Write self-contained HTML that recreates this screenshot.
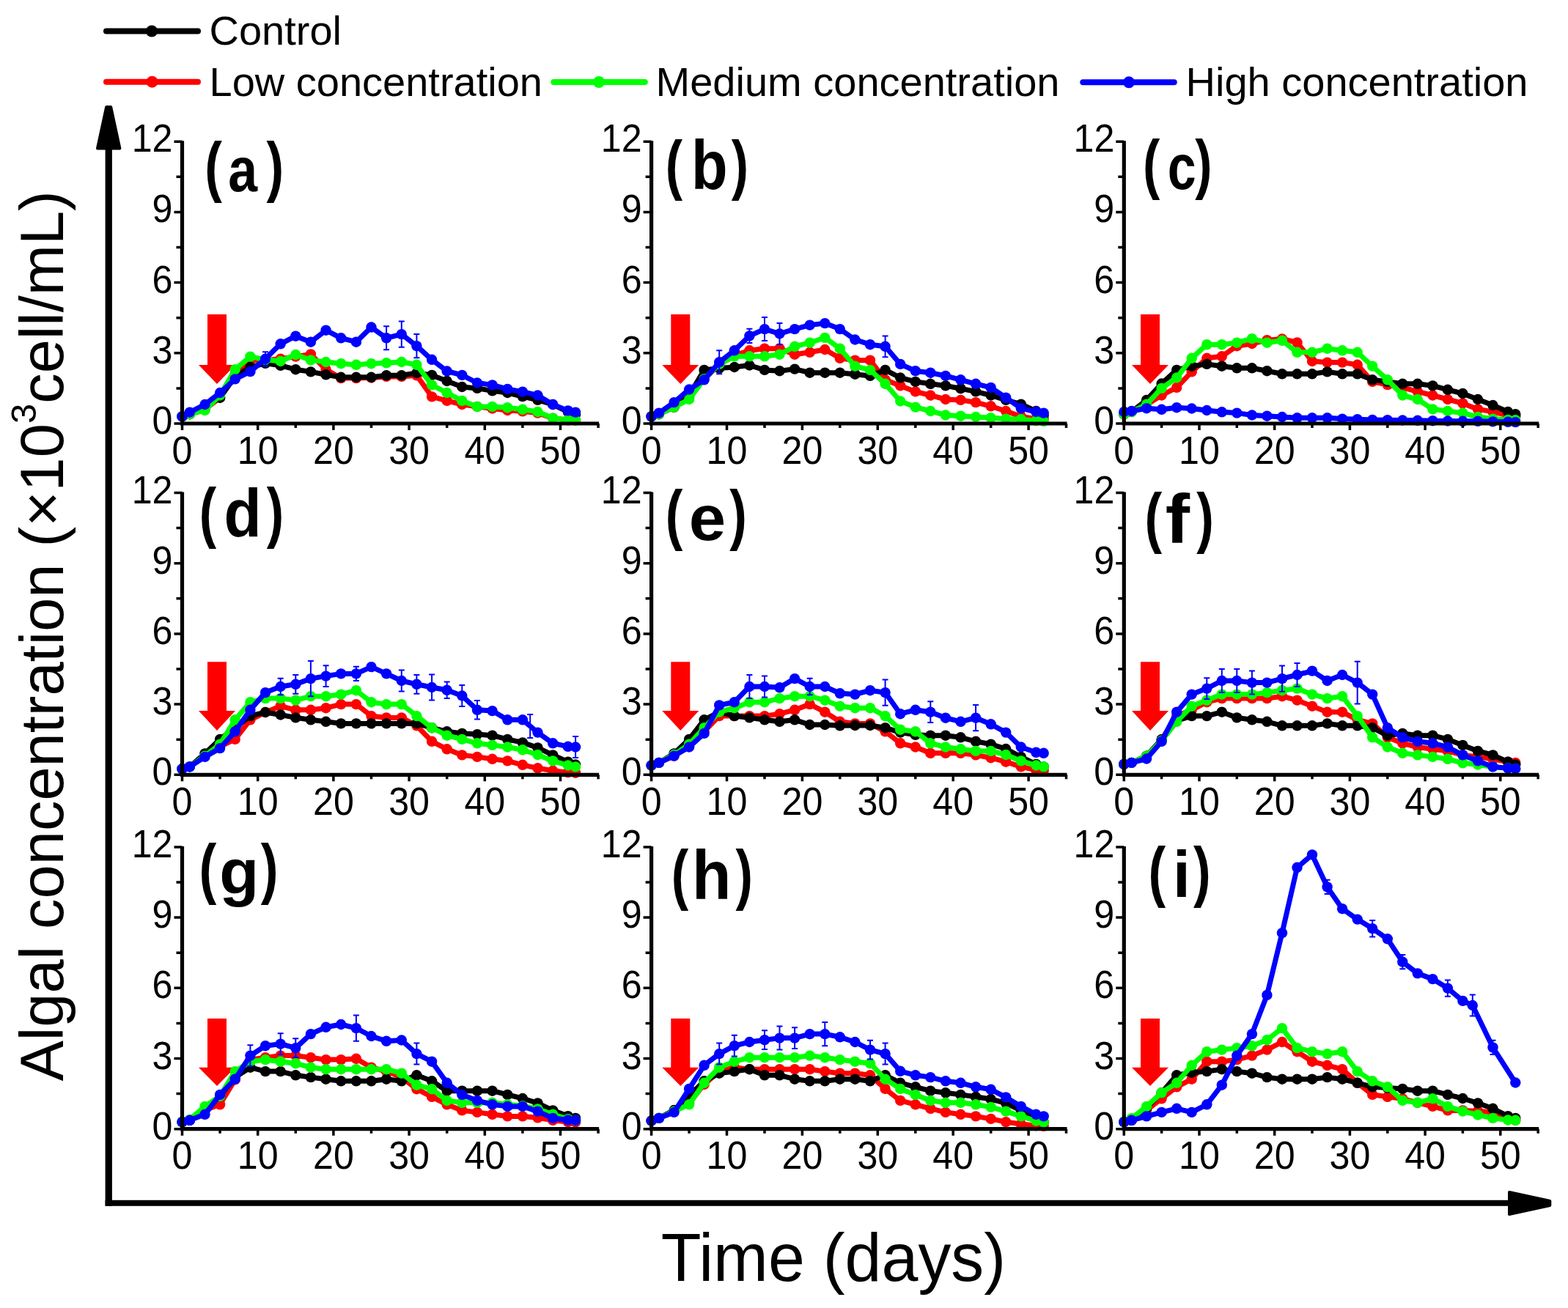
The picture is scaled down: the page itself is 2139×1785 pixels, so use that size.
<!DOCTYPE html>
<html><head><meta charset="utf-8"><title>Algal concentration</title>
<style>html,body{margin:0;padding:0;background:#fff;}svg{display:block;}.t{font-family:"Liberation Sans",Arial,sans-serif;}.bl{font-family:"Liberation Sans",Arial,sans-serif;font-weight:bold;}</style>
</head><body>
<svg width="2139" height="1785" viewBox="0 0 2139 1785">
<rect width="2139" height="1785" fill="#fff"/>
<line x1="145" y1="42.5" x2="270" y2="42.5" stroke="#000" stroke-width="8" stroke-linecap="round"/>
<circle cx="207" cy="42.5" r="8" fill="#000"/>
<line x1="145" y1="111.7" x2="270" y2="111.7" stroke="#ff0000" stroke-width="8" stroke-linecap="round"/>
<circle cx="207.5" cy="111.7" r="8" fill="#ff0000"/>
<line x1="755.4" y1="112" x2="879.8" y2="112" stroke="#00ff00" stroke-width="8" stroke-linecap="round"/>
<circle cx="817" cy="112" r="8" fill="#00ff00"/>
<line x1="1477.3" y1="112.3" x2="1601.7" y2="112.3" stroke="#0000ff" stroke-width="8" stroke-linecap="round"/>
<circle cx="1540" cy="112.3" r="8" fill="#0000ff"/>
<g class="t" font-size="56" fill="#000">
<text x="285.5" y="60.5">Control</text>
<text x="285.5" y="130.5">Low concentration</text>
<text x="894.5" y="130.8">Medium concentration</text>
<text x="1617.5" y="130.8">High concentration</text>
</g>
<g fill="#000">
<rect x="143.6" y="200" width="9.3" height="1445.7"/>
<rect x="143.6" y="1637.8" width="1920" height="8"/>
<path d="M145.2 146 L151.2 146 L163.4 202.5 L133 202.5 Z" stroke="#000" stroke-width="4" stroke-linejoin="round"/>
<path d="M2059 1627 L2114.3 1639 L2114.3 1645 L2059 1657 Z" stroke="#000" stroke-width="4" stroke-linejoin="round"/>
</g>
<text class="t" x="901.7" y="1747.7" font-size="92" textLength="470.4" lengthAdjust="spacingAndGlyphs">Time (days)</text>
<text class="t" font-size="83" transform="translate(85.6,1475.5) rotate(-90)">Algal concentration (×10<tspan font-size="49" dy="-37">3</tspan><tspan dy="37">cell/mL)</tspan></text>
<path d="M283 429 H309 V498 H321 L296 524 L271 498 H283 Z" fill="#ff0000"/>
<path d="M248.5 568.4 L258.8 565.2 L279.5 558.8 L300.1 542.7 L320.7 510.7 L341.4 491.4 L362 491.4 L382.7 489.8 L403.3 486.6 L423.9 483.4 L444.6 504.2 L465.2 516.1 L485.9 516.1 L506.5 515.5 L527.1 513.9 L547.8 513.9 L568.4 512.3 L589.1 541.4 L609.7 546.9 L630.3 552 L651 554.9 L671.6 557.5 L692.3 560 L712.9 561.3 L733.5 563.6 L754.2 570.6 L774.8 573.2 L785.1 573.5" fill="none" stroke="#ff0000" stroke-width="7" stroke-linejoin="round"/>
<g fill="#ff0000"><circle cx="248.5" cy="568.4" r="7.2"/><circle cx="258.8" cy="565.2" r="7.2"/><circle cx="279.5" cy="558.8" r="7.2"/><circle cx="300.1" cy="542.7" r="7.2"/><circle cx="320.7" cy="510.7" r="7.2"/><circle cx="341.4" cy="491.4" r="7.2"/><circle cx="362" cy="491.4" r="7.2"/><circle cx="382.7" cy="489.8" r="7.2"/><circle cx="403.3" cy="486.6" r="7.2"/><circle cx="423.9" cy="483.4" r="7.2"/><circle cx="444.6" cy="504.2" r="7.2"/><circle cx="465.2" cy="516.1" r="7.2"/><circle cx="485.9" cy="516.1" r="7.2"/><circle cx="506.5" cy="515.5" r="7.2"/><circle cx="527.1" cy="513.9" r="7.2"/><circle cx="547.8" cy="513.9" r="7.2"/><circle cx="568.4" cy="512.3" r="7.2"/><circle cx="589.1" cy="541.4" r="7.2"/><circle cx="609.7" cy="546.9" r="7.2"/><circle cx="630.3" cy="552" r="7.2"/><circle cx="651" cy="554.9" r="7.2"/><circle cx="671.6" cy="557.5" r="7.2"/><circle cx="692.3" cy="560" r="7.2"/><circle cx="712.9" cy="561.3" r="7.2"/><circle cx="733.5" cy="563.6" r="7.2"/><circle cx="754.2" cy="570.6" r="7.2"/><circle cx="774.8" cy="573.2" r="7.2"/><circle cx="785.1" cy="573.5" r="7.2"/></g>
<path d="M248.5 568.4 L258.8 565.2 L279.5 555.6 L300.1 542.7 L320.7 513.9 L341.4 501 L362 495.9 L382.7 498.8 L403.3 504.2 L423.9 507.4 L444.6 511.3 L465.2 514.8 L485.9 514.8 L506.5 514.8 L527.1 512.3 L547.8 512.3 L568.4 509 L589.1 511.9 L609.7 520 L630.3 528 L651 529.9 L671.6 533.4 L692.3 536 L712.9 541.1 L733.5 545.9 L754.2 552 L774.8 562 L785.1 565.5" fill="none" stroke="#000000" stroke-width="7" stroke-linejoin="round"/>
<g fill="#000000"><circle cx="248.5" cy="568.4" r="7.2"/><circle cx="258.8" cy="565.2" r="7.2"/><circle cx="279.5" cy="555.6" r="7.2"/><circle cx="300.1" cy="542.7" r="7.2"/><circle cx="320.7" cy="513.9" r="7.2"/><circle cx="341.4" cy="501" r="7.2"/><circle cx="362" cy="495.9" r="7.2"/><circle cx="382.7" cy="498.8" r="7.2"/><circle cx="403.3" cy="504.2" r="7.2"/><circle cx="423.9" cy="507.4" r="7.2"/><circle cx="444.6" cy="511.3" r="7.2"/><circle cx="465.2" cy="514.8" r="7.2"/><circle cx="485.9" cy="514.8" r="7.2"/><circle cx="506.5" cy="514.8" r="7.2"/><circle cx="527.1" cy="512.3" r="7.2"/><circle cx="547.8" cy="512.3" r="7.2"/><circle cx="568.4" cy="509" r="7.2"/><circle cx="589.1" cy="511.9" r="7.2"/><circle cx="609.7" cy="520" r="7.2"/><circle cx="630.3" cy="528" r="7.2"/><circle cx="651" cy="529.9" r="7.2"/><circle cx="671.6" cy="533.4" r="7.2"/><circle cx="692.3" cy="536" r="7.2"/><circle cx="712.9" cy="541.1" r="7.2"/><circle cx="733.5" cy="545.9" r="7.2"/><circle cx="754.2" cy="552" r="7.2"/><circle cx="774.8" cy="562" r="7.2"/><circle cx="785.1" cy="565.5" r="7.2"/></g>
<path d="M248.5 568.4 L258.8 565.2 L279.5 560 L300.1 539.5 L320.7 504.2 L341.4 486.6 L362 490.8 L382.7 493 L403.3 484 L423.9 491.4 L444.6 494 L465.2 496.2 L485.9 497.8 L506.5 496.2 L527.1 495.3 L547.8 494 L568.4 497.8 L589.1 525.4 L609.7 536 L630.3 546.9 L651 554.9 L671.6 554.9 L692.3 556.2 L712.9 558.8 L733.5 562 L754.2 570.6 L774.8 573.2 L785.1 573.5" fill="none" stroke="#00ff00" stroke-width="7" stroke-linejoin="round"/>
<g fill="#00ff00"><circle cx="248.5" cy="568.4" r="7.2"/><circle cx="258.8" cy="565.2" r="7.2"/><circle cx="279.5" cy="560" r="7.2"/><circle cx="300.1" cy="539.5" r="7.2"/><circle cx="320.7" cy="504.2" r="7.2"/><circle cx="341.4" cy="486.6" r="7.2"/><circle cx="362" cy="490.8" r="7.2"/><circle cx="382.7" cy="493" r="7.2"/><circle cx="403.3" cy="484" r="7.2"/><circle cx="423.9" cy="491.4" r="7.2"/><circle cx="444.6" cy="494" r="7.2"/><circle cx="465.2" cy="496.2" r="7.2"/><circle cx="485.9" cy="497.8" r="7.2"/><circle cx="506.5" cy="496.2" r="7.2"/><circle cx="527.1" cy="495.3" r="7.2"/><circle cx="547.8" cy="494" r="7.2"/><circle cx="568.4" cy="497.8" r="7.2"/><circle cx="589.1" cy="525.4" r="7.2"/><circle cx="609.7" cy="536" r="7.2"/><circle cx="630.3" cy="546.9" r="7.2"/><circle cx="651" cy="554.9" r="7.2"/><circle cx="671.6" cy="554.9" r="7.2"/><circle cx="692.3" cy="556.2" r="7.2"/><circle cx="712.9" cy="558.8" r="7.2"/><circle cx="733.5" cy="562" r="7.2"/><circle cx="754.2" cy="570.6" r="7.2"/><circle cx="774.8" cy="573.2" r="7.2"/><circle cx="785.1" cy="573.5" r="7.2"/></g>
<path d="M248.5 568.4 L258.8 562.6 L279.5 552 L300.1 536 L320.7 517.4 L341.4 507.1 L362 489.8 L382.7 469.3 L403.3 458.7 L423.9 466.7 L444.6 450.7 L465.2 461.3 L485.9 466.7 L506.5 446.5 L527.1 461.3 L547.8 456.1 L568.4 472.2 L589.1 490.8 L609.7 506.5 L630.3 511.9 L651 522.5 L671.6 525.4 L692.3 530.9 L712.9 534.7 L733.5 539.5 L754.2 552 L774.8 560.4 L785.1 562.6" fill="none" stroke="#0000ff" stroke-width="7" stroke-linejoin="round"/>
<g fill="#0000ff"><circle cx="248.5" cy="568.4" r="7.2"/><circle cx="258.8" cy="562.6" r="7.2"/><circle cx="279.5" cy="552" r="7.2"/><circle cx="300.1" cy="536" r="7.2"/><circle cx="320.7" cy="517.4" r="7.2"/><circle cx="341.4" cy="507.1" r="7.2"/><circle cx="362" cy="489.8" r="7.2"/><circle cx="382.7" cy="469.3" r="7.2"/><circle cx="403.3" cy="458.7" r="7.2"/><circle cx="423.9" cy="466.7" r="7.2"/><circle cx="444.6" cy="450.7" r="7.2"/><circle cx="465.2" cy="461.3" r="7.2"/><circle cx="485.9" cy="466.7" r="7.2"/><circle cx="506.5" cy="446.5" r="7.2"/><circle cx="527.1" cy="461.3" r="7.2"/><circle cx="547.8" cy="456.1" r="7.2"/><circle cx="568.4" cy="472.2" r="7.2"/><circle cx="589.1" cy="490.8" r="7.2"/><circle cx="609.7" cy="506.5" r="7.2"/><circle cx="630.3" cy="511.9" r="7.2"/><circle cx="651" cy="522.5" r="7.2"/><circle cx="671.6" cy="525.4" r="7.2"/><circle cx="692.3" cy="530.9" r="7.2"/><circle cx="712.9" cy="534.7" r="7.2"/><circle cx="733.5" cy="539.5" r="7.2"/><circle cx="754.2" cy="552" r="7.2"/><circle cx="774.8" cy="560.4" r="7.2"/><circle cx="785.1" cy="562.6" r="7.2"/></g>
<path d="M527.1 445.2 V477.3 M523.1 445.2 H531.1 M523.1 477.3 H531.1 M547.8 438.5 V473.8 M543.8 438.5 H551.8 M543.8 473.8 H551.8 M568.4 456.1 V488.2 M564.4 456.1 H572.4 M564.4 488.2 H572.4 M362 480.2 V499.4 M358 480.2 H366 M358 499.4 H366" stroke="#0000ff" stroke-width="2" fill="none"/>
<g stroke="#000" stroke-width="5.2" fill="none">
<path d="M248.5 192.2 V578 H817.1"/>
</g>
<path d="M248.5 578 H237.5 M248.5 481.8 H237.5 M248.5 385.6 H237.5 M248.5 289.4 H237.5 M248.5 193.2 H237.5 M248.5 529.9 H240.5 M248.5 433.7 H240.5 M248.5 337.5 H240.5 M248.5 241.3 H240.5 M248.5 578 V587 M351.7 578 V587 M454.9 578 V587 M558.1 578 V587 M661.3 578 V587 M764.5 578 V587 M300.1 578 V584 M403.3 578 V584 M506.5 578 V584 M609.7 578 V584 M712.9 578 V584 M816.1 578 V584" stroke="#000" stroke-width="3.5" fill="none"/>
<g class="t" font-size="54" fill="#000">
<text text-anchor="end" transform="translate(235.5,592) scale(0.93,1)">0</text>
<text text-anchor="end" transform="translate(235.5,495.8) scale(0.93,1)">3</text>
<text text-anchor="end" transform="translate(235.5,399.6) scale(0.93,1)">6</text>
<text text-anchor="end" transform="translate(235.5,303.4) scale(0.93,1)">9</text>
<text text-anchor="end" transform="translate(235.5,207.2) scale(0.93,1)">12</text>
<text text-anchor="middle" transform="translate(248.5,632.5) scale(0.93,1)">0</text>
<text text-anchor="middle" transform="translate(351.7,632.5) scale(0.93,1)">10</text>
<text text-anchor="middle" transform="translate(454.9,632.5) scale(0.93,1)">20</text>
<text text-anchor="middle" transform="translate(558.1,632.5) scale(0.93,1)">30</text>
<text text-anchor="middle" transform="translate(661.3,632.5) scale(0.93,1)">40</text>
<text text-anchor="middle" transform="translate(764.5,632.5) scale(0.93,1)">50</text>
</g>
<text class="bl" font-size="91" transform="translate(279.15,258.2) scale(0.78,1)">(</text>
<text class="bl" font-size="91" transform="translate(363.43,258.2) scale(0.78,1)">)</text>
<text class="bl" font-size="88" transform="translate(311.15,261) scale(0.815,0.970)">a</text>
<path d="M915.3 429 H941.3 V498 H953.3 L928.3 524 L903.3 498 H915.3 Z" fill="#ff0000"/>
<path d="M888.6 568.4 L898.9 565.2 L919.5 555.6 L940.1 542.7 L960.6 517.1 L981.2 497.8 L1001.8 485 L1022.4 478.3 L1043 475.7 L1063.5 475.7 L1084.1 483.7 L1104.7 480.8 L1125.3 477 L1145.8 488.8 L1166.4 491.7 L1187 491.7 L1207.6 518.3 L1228.2 526.4 L1248.8 534.4 L1269.3 539.5 L1289.9 545 L1310.5 545.9 L1331.1 549.1 L1351.7 554.3 L1372.2 561 L1392.8 568.4 L1413.4 571.6 L1423.7 572.2" fill="none" stroke="#ff0000" stroke-width="7" stroke-linejoin="round"/>
<g fill="#ff0000"><circle cx="888.6" cy="568.4" r="7.2"/><circle cx="898.9" cy="565.2" r="7.2"/><circle cx="919.5" cy="555.6" r="7.2"/><circle cx="940.1" cy="542.7" r="7.2"/><circle cx="960.6" cy="517.1" r="7.2"/><circle cx="981.2" cy="497.8" r="7.2"/><circle cx="1001.8" cy="485" r="7.2"/><circle cx="1022.4" cy="478.3" r="7.2"/><circle cx="1043" cy="475.7" r="7.2"/><circle cx="1063.5" cy="475.7" r="7.2"/><circle cx="1084.1" cy="483.7" r="7.2"/><circle cx="1104.7" cy="480.8" r="7.2"/><circle cx="1125.3" cy="477" r="7.2"/><circle cx="1145.8" cy="488.8" r="7.2"/><circle cx="1166.4" cy="491.7" r="7.2"/><circle cx="1187" cy="491.7" r="7.2"/><circle cx="1207.6" cy="518.3" r="7.2"/><circle cx="1228.2" cy="526.4" r="7.2"/><circle cx="1248.8" cy="534.4" r="7.2"/><circle cx="1269.3" cy="539.5" r="7.2"/><circle cx="1289.9" cy="545" r="7.2"/><circle cx="1310.5" cy="545.9" r="7.2"/><circle cx="1331.1" cy="549.1" r="7.2"/><circle cx="1351.7" cy="554.3" r="7.2"/><circle cx="1372.2" cy="561" r="7.2"/><circle cx="1392.8" cy="568.4" r="7.2"/><circle cx="1413.4" cy="571.6" r="7.2"/><circle cx="1423.7" cy="572.2" r="7.2"/></g>
<path d="M888.6 568.4 L898.9 565.2 L919.5 555.6 L940.1 539.5 L960.6 504.9 L981.2 502.6 L1001.8 501 L1022.4 498.5 L1043 504.9 L1063.5 506.2 L1084.1 503.6 L1104.7 508.7 L1125.3 508.7 L1145.8 508.7 L1166.4 510.7 L1187 512.9 L1207.6 504.9 L1228.2 515.5 L1248.8 520.9 L1269.3 523.8 L1289.9 526.4 L1310.5 530.2 L1331.1 534.4 L1351.7 539.5 L1372.2 545.9 L1392.8 551.7 L1413.4 561 L1423.7 566.8" fill="none" stroke="#000000" stroke-width="7" stroke-linejoin="round"/>
<g fill="#000000"><circle cx="888.6" cy="568.4" r="7.2"/><circle cx="898.9" cy="565.2" r="7.2"/><circle cx="919.5" cy="555.6" r="7.2"/><circle cx="940.1" cy="539.5" r="7.2"/><circle cx="960.6" cy="504.9" r="7.2"/><circle cx="981.2" cy="502.6" r="7.2"/><circle cx="1001.8" cy="501" r="7.2"/><circle cx="1022.4" cy="498.5" r="7.2"/><circle cx="1043" cy="504.9" r="7.2"/><circle cx="1063.5" cy="506.2" r="7.2"/><circle cx="1084.1" cy="503.6" r="7.2"/><circle cx="1104.7" cy="508.7" r="7.2"/><circle cx="1125.3" cy="508.7" r="7.2"/><circle cx="1145.8" cy="508.7" r="7.2"/><circle cx="1166.4" cy="510.7" r="7.2"/><circle cx="1187" cy="512.9" r="7.2"/><circle cx="1207.6" cy="504.9" r="7.2"/><circle cx="1228.2" cy="515.5" r="7.2"/><circle cx="1248.8" cy="520.9" r="7.2"/><circle cx="1269.3" cy="523.8" r="7.2"/><circle cx="1289.9" cy="526.4" r="7.2"/><circle cx="1310.5" cy="530.2" r="7.2"/><circle cx="1331.1" cy="534.4" r="7.2"/><circle cx="1351.7" cy="539.5" r="7.2"/><circle cx="1372.2" cy="545.9" r="7.2"/><circle cx="1392.8" cy="551.7" r="7.2"/><circle cx="1413.4" cy="561" r="7.2"/><circle cx="1423.7" cy="566.8" r="7.2"/></g>
<path d="M888.6 568.4 L898.9 565.2 L919.5 555.6 L940.1 545 L960.6 517.1 L981.2 496.9 L1001.8 486.3 L1022.4 486.3 L1043 486.3 L1063.5 483.7 L1084.1 472.8 L1104.7 467.7 L1125.3 460.9 L1145.8 475.7 L1166.4 499.7 L1187 504.9 L1207.6 523.8 L1228.2 547.5 L1248.8 555.6 L1269.3 561 L1289.9 566.5 L1310.5 567.7 L1331.1 569 L1351.7 570.3 L1372.2 571.6 L1392.8 572.2 L1413.4 574.2 L1423.7 574.8" fill="none" stroke="#00ff00" stroke-width="7" stroke-linejoin="round"/>
<g fill="#00ff00"><circle cx="888.6" cy="568.4" r="7.2"/><circle cx="898.9" cy="565.2" r="7.2"/><circle cx="919.5" cy="555.6" r="7.2"/><circle cx="940.1" cy="545" r="7.2"/><circle cx="960.6" cy="517.1" r="7.2"/><circle cx="981.2" cy="496.9" r="7.2"/><circle cx="1001.8" cy="486.3" r="7.2"/><circle cx="1022.4" cy="486.3" r="7.2"/><circle cx="1043" cy="486.3" r="7.2"/><circle cx="1063.5" cy="483.7" r="7.2"/><circle cx="1084.1" cy="472.8" r="7.2"/><circle cx="1104.7" cy="467.7" r="7.2"/><circle cx="1125.3" cy="460.9" r="7.2"/><circle cx="1145.8" cy="475.7" r="7.2"/><circle cx="1166.4" cy="499.7" r="7.2"/><circle cx="1187" cy="504.9" r="7.2"/><circle cx="1207.6" cy="523.8" r="7.2"/><circle cx="1228.2" cy="547.5" r="7.2"/><circle cx="1248.8" cy="555.6" r="7.2"/><circle cx="1269.3" cy="561" r="7.2"/><circle cx="1289.9" cy="566.5" r="7.2"/><circle cx="1310.5" cy="567.7" r="7.2"/><circle cx="1331.1" cy="569" r="7.2"/><circle cx="1351.7" cy="570.3" r="7.2"/><circle cx="1372.2" cy="571.6" r="7.2"/><circle cx="1392.8" cy="572.2" r="7.2"/><circle cx="1413.4" cy="574.2" r="7.2"/><circle cx="1423.7" cy="574.8" r="7.2"/></g>
<path d="M888.6 568.4 L898.9 563.6 L919.5 549.1 L940.1 531.5 L960.6 518.3 L981.2 494.3 L1001.8 478.3 L1022.4 458.4 L1043 449.1 L1063.5 455.5 L1084.1 449.1 L1104.7 443.6 L1125.3 441.1 L1145.8 449.1 L1166.4 463.5 L1187 470.2 L1207.6 472.8 L1228.2 496.9 L1248.8 506.2 L1269.3 508.7 L1289.9 512.9 L1310.5 518.3 L1331.1 523.8 L1351.7 528.9 L1372.2 542.7 L1392.8 557.2 L1413.4 562 L1423.7 563.6" fill="none" stroke="#0000ff" stroke-width="7" stroke-linejoin="round"/>
<g fill="#0000ff"><circle cx="888.6" cy="568.4" r="7.2"/><circle cx="898.9" cy="563.6" r="7.2"/><circle cx="919.5" cy="549.1" r="7.2"/><circle cx="940.1" cy="531.5" r="7.2"/><circle cx="960.6" cy="518.3" r="7.2"/><circle cx="981.2" cy="494.3" r="7.2"/><circle cx="1001.8" cy="478.3" r="7.2"/><circle cx="1022.4" cy="458.4" r="7.2"/><circle cx="1043" cy="449.1" r="7.2"/><circle cx="1063.5" cy="455.5" r="7.2"/><circle cx="1084.1" cy="449.1" r="7.2"/><circle cx="1104.7" cy="443.6" r="7.2"/><circle cx="1125.3" cy="441.1" r="7.2"/><circle cx="1145.8" cy="449.1" r="7.2"/><circle cx="1166.4" cy="463.5" r="7.2"/><circle cx="1187" cy="470.2" r="7.2"/><circle cx="1207.6" cy="472.8" r="7.2"/><circle cx="1228.2" cy="496.9" r="7.2"/><circle cx="1248.8" cy="506.2" r="7.2"/><circle cx="1269.3" cy="508.7" r="7.2"/><circle cx="1289.9" cy="512.9" r="7.2"/><circle cx="1310.5" cy="518.3" r="7.2"/><circle cx="1331.1" cy="523.8" r="7.2"/><circle cx="1351.7" cy="528.9" r="7.2"/><circle cx="1372.2" cy="542.7" r="7.2"/><circle cx="1392.8" cy="557.2" r="7.2"/><circle cx="1413.4" cy="562" r="7.2"/><circle cx="1423.7" cy="563.6" r="7.2"/></g>
<path d="M981.2 478.3 V510.3 M977.2 478.3 H985.2 M977.2 510.3 H985.2 M1043 433 V465.1 M1039 433 H1047 M1039 465.1 H1047 M1063.5 441.1 V469.9 M1059.5 441.1 H1067.5 M1059.5 469.9 H1067.5 M1207.6 458.4 V487.2 M1203.6 458.4 H1211.6 M1203.6 487.2 H1211.6 M1022.4 448.8 V468 M1018.4 448.8 H1026.4 M1018.4 468 H1026.4" stroke="#0000ff" stroke-width="2" fill="none"/>
<g stroke="#000" stroke-width="5.2" fill="none">
<path d="M888.6 192.2 V578 H1455.5"/>
</g>
<path d="M888.6 578 H877.6 M888.6 481.8 H877.6 M888.6 385.6 H877.6 M888.6 289.4 H877.6 M888.6 193.2 H877.6 M888.6 529.9 H880.6 M888.6 433.7 H880.6 M888.6 337.5 H880.6 M888.6 241.3 H880.6 M888.6 578 V587 M991.5 578 V587 M1094.4 578 V587 M1197.3 578 V587 M1300.2 578 V587 M1403.1 578 V587 M940.1 578 V584 M1043 578 V584 M1145.8 578 V584 M1248.8 578 V584 M1351.7 578 V584 M1454.5 578 V584" stroke="#000" stroke-width="3.5" fill="none"/>
<g class="t" font-size="54" fill="#000">
<text text-anchor="end" transform="translate(875.6,592) scale(0.93,1)">0</text>
<text text-anchor="end" transform="translate(875.6,495.8) scale(0.93,1)">3</text>
<text text-anchor="end" transform="translate(875.6,399.6) scale(0.93,1)">6</text>
<text text-anchor="end" transform="translate(875.6,303.4) scale(0.93,1)">9</text>
<text text-anchor="end" transform="translate(875.6,207.2) scale(0.93,1)">12</text>
<text text-anchor="middle" transform="translate(888.6,632.5) scale(0.93,1)">0</text>
<text text-anchor="middle" transform="translate(991.5,632.5) scale(0.93,1)">10</text>
<text text-anchor="middle" transform="translate(1094.4,632.5) scale(0.93,1)">20</text>
<text text-anchor="middle" transform="translate(1197.3,632.5) scale(0.93,1)">30</text>
<text text-anchor="middle" transform="translate(1300.2,632.5) scale(0.93,1)">40</text>
<text text-anchor="middle" transform="translate(1403.1,632.5) scale(0.93,1)">50</text>
</g>
<text class="bl" font-size="89.6" transform="translate(907.81,254.5) scale(0.78,1)">(</text>
<text class="bl" font-size="89.6" transform="translate(997.74,254.5) scale(0.78,1)">)</text>
<text class="bl" font-size="88" transform="translate(943.02,257.5) scale(0.923,1.065)">b</text>
<path d="M1556 429 H1582 V498 H1594 L1569 524 L1544 498 H1556 Z" fill="#ff0000"/>
<path d="M1533.3 565.2 L1543.6 562 L1564.1 552.3 L1584.6 539.5 L1605.2 528.9 L1625.7 507.4 L1646.3 488.8 L1666.8 486.3 L1687.3 472.2 L1707.9 469 L1728.4 464.2 L1749 462.5 L1769.5 467.4 L1790 493 L1810.6 494.6 L1831.1 494.6 L1851.7 497.8 L1872.2 520.9 L1892.8 525.1 L1913.3 528.9 L1933.8 534.4 L1954.4 539.5 L1974.9 545 L1995.4 550.4 L2016 558.4 L2036.5 562 L2057.1 566.8 L2067.3 568.4" fill="none" stroke="#ff0000" stroke-width="7" stroke-linejoin="round"/>
<g fill="#ff0000"><circle cx="1533.3" cy="565.2" r="7.2"/><circle cx="1543.6" cy="562" r="7.2"/><circle cx="1564.1" cy="552.3" r="7.2"/><circle cx="1584.6" cy="539.5" r="7.2"/><circle cx="1605.2" cy="528.9" r="7.2"/><circle cx="1625.7" cy="507.4" r="7.2"/><circle cx="1646.3" cy="488.8" r="7.2"/><circle cx="1666.8" cy="486.3" r="7.2"/><circle cx="1687.3" cy="472.2" r="7.2"/><circle cx="1707.9" cy="469" r="7.2"/><circle cx="1728.4" cy="464.2" r="7.2"/><circle cx="1749" cy="462.5" r="7.2"/><circle cx="1769.5" cy="467.4" r="7.2"/><circle cx="1790" cy="493" r="7.2"/><circle cx="1810.6" cy="494.6" r="7.2"/><circle cx="1831.1" cy="494.6" r="7.2"/><circle cx="1851.7" cy="497.8" r="7.2"/><circle cx="1872.2" cy="520.9" r="7.2"/><circle cx="1892.8" cy="525.1" r="7.2"/><circle cx="1913.3" cy="528.9" r="7.2"/><circle cx="1933.8" cy="534.4" r="7.2"/><circle cx="1954.4" cy="539.5" r="7.2"/><circle cx="1974.9" cy="545" r="7.2"/><circle cx="1995.4" cy="550.4" r="7.2"/><circle cx="2016" cy="558.4" r="7.2"/><circle cx="2036.5" cy="562" r="7.2"/><circle cx="2057.1" cy="566.8" r="7.2"/><circle cx="2067.3" cy="568.4" r="7.2"/></g>
<path d="M1533.3 565.2 L1543.6 562 L1564.1 545.9 L1584.6 523.5 L1605.2 504.9 L1625.7 499.7 L1646.3 496.9 L1666.8 499.7 L1687.3 502.3 L1707.9 502.3 L1728.4 506.2 L1749 510.3 L1769.5 510.3 L1790 510.3 L1810.6 507.4 L1831.1 510.3 L1851.7 510.3 L1872.2 518.3 L1892.8 520.9 L1913.3 523.8 L1933.8 523.8 L1954.4 526.4 L1974.9 531.8 L1995.4 537 L2016 545 L2036.5 553 L2057.1 562 L2067.3 565.2" fill="none" stroke="#000000" stroke-width="7" stroke-linejoin="round"/>
<g fill="#000000"><circle cx="1533.3" cy="565.2" r="7.2"/><circle cx="1543.6" cy="562" r="7.2"/><circle cx="1564.1" cy="545.9" r="7.2"/><circle cx="1584.6" cy="523.5" r="7.2"/><circle cx="1605.2" cy="504.9" r="7.2"/><circle cx="1625.7" cy="499.7" r="7.2"/><circle cx="1646.3" cy="496.9" r="7.2"/><circle cx="1666.8" cy="499.7" r="7.2"/><circle cx="1687.3" cy="502.3" r="7.2"/><circle cx="1707.9" cy="502.3" r="7.2"/><circle cx="1728.4" cy="506.2" r="7.2"/><circle cx="1749" cy="510.3" r="7.2"/><circle cx="1769.5" cy="510.3" r="7.2"/><circle cx="1790" cy="510.3" r="7.2"/><circle cx="1810.6" cy="507.4" r="7.2"/><circle cx="1831.1" cy="510.3" r="7.2"/><circle cx="1851.7" cy="510.3" r="7.2"/><circle cx="1872.2" cy="518.3" r="7.2"/><circle cx="1892.8" cy="520.9" r="7.2"/><circle cx="1913.3" cy="523.8" r="7.2"/><circle cx="1933.8" cy="523.8" r="7.2"/><circle cx="1954.4" cy="526.4" r="7.2"/><circle cx="1974.9" cy="531.8" r="7.2"/><circle cx="1995.4" cy="537" r="7.2"/><circle cx="2016" cy="545" r="7.2"/><circle cx="2036.5" cy="553" r="7.2"/><circle cx="2057.1" cy="562" r="7.2"/><circle cx="2067.3" cy="565.2" r="7.2"/></g>
<path d="M1533.3 565.2 L1543.6 562 L1564.1 551.7 L1584.6 529.9 L1605.2 515.5 L1625.7 488.8 L1646.3 470.2 L1666.8 470.2 L1687.3 467.7 L1707.9 462.2 L1728.4 467.7 L1749 464.8 L1769.5 480.8 L1790 480.8 L1810.6 475.7 L1831.1 478.3 L1851.7 480.8 L1872.2 499.7 L1892.8 518.3 L1913.3 539.5 L1933.8 545 L1954.4 558.4 L1974.9 561 L1995.4 563.6 L2016 569 L2036.5 571.6 L2057.1 572.9 L2067.3 573.2" fill="none" stroke="#00ff00" stroke-width="7" stroke-linejoin="round"/>
<g fill="#00ff00"><circle cx="1533.3" cy="565.2" r="7.2"/><circle cx="1543.6" cy="562" r="7.2"/><circle cx="1564.1" cy="551.7" r="7.2"/><circle cx="1584.6" cy="529.9" r="7.2"/><circle cx="1605.2" cy="515.5" r="7.2"/><circle cx="1625.7" cy="488.8" r="7.2"/><circle cx="1646.3" cy="470.2" r="7.2"/><circle cx="1666.8" cy="470.2" r="7.2"/><circle cx="1687.3" cy="467.7" r="7.2"/><circle cx="1707.9" cy="462.2" r="7.2"/><circle cx="1728.4" cy="467.7" r="7.2"/><circle cx="1749" cy="464.8" r="7.2"/><circle cx="1769.5" cy="480.8" r="7.2"/><circle cx="1790" cy="480.8" r="7.2"/><circle cx="1810.6" cy="475.7" r="7.2"/><circle cx="1831.1" cy="478.3" r="7.2"/><circle cx="1851.7" cy="480.8" r="7.2"/><circle cx="1872.2" cy="499.7" r="7.2"/><circle cx="1892.8" cy="518.3" r="7.2"/><circle cx="1913.3" cy="539.5" r="7.2"/><circle cx="1933.8" cy="545" r="7.2"/><circle cx="1954.4" cy="558.4" r="7.2"/><circle cx="1974.9" cy="561" r="7.2"/><circle cx="1995.4" cy="563.6" r="7.2"/><circle cx="2016" cy="569" r="7.2"/><circle cx="2036.5" cy="571.6" r="7.2"/><circle cx="2057.1" cy="572.9" r="7.2"/><circle cx="2067.3" cy="573.2" r="7.2"/></g>
<path d="M1533.3 562 L1543.6 561 L1564.1 557.2 L1584.6 558.8 L1605.2 556.2 L1625.7 557.5 L1646.3 560 L1666.8 562.3 L1687.3 563.6 L1707.9 566.5 L1728.4 567.7 L1749 569 L1769.5 570.3 L1790 570.3 L1810.6 570.3 L1831.1 571.6 L1851.7 572.2 L1872.2 572.9 L1892.8 573.2 L1913.3 573.5 L1933.8 573.8 L1954.4 574.2 L1974.9 574.5 L1995.4 574.8 L2016 574.8 L2036.5 575.4 L2057.1 575.8 L2067.3 576.1" fill="none" stroke="#0000ff" stroke-width="7" stroke-linejoin="round"/>
<g fill="#0000ff"><circle cx="1533.3" cy="562" r="7.2"/><circle cx="1543.6" cy="561" r="7.2"/><circle cx="1564.1" cy="557.2" r="7.2"/><circle cx="1584.6" cy="558.8" r="7.2"/><circle cx="1605.2" cy="556.2" r="7.2"/><circle cx="1625.7" cy="557.5" r="7.2"/><circle cx="1646.3" cy="560" r="7.2"/><circle cx="1666.8" cy="562.3" r="7.2"/><circle cx="1687.3" cy="563.6" r="7.2"/><circle cx="1707.9" cy="566.5" r="7.2"/><circle cx="1728.4" cy="567.7" r="7.2"/><circle cx="1749" cy="569" r="7.2"/><circle cx="1769.5" cy="570.3" r="7.2"/><circle cx="1790" cy="570.3" r="7.2"/><circle cx="1810.6" cy="570.3" r="7.2"/><circle cx="1831.1" cy="571.6" r="7.2"/><circle cx="1851.7" cy="572.2" r="7.2"/><circle cx="1872.2" cy="572.9" r="7.2"/><circle cx="1892.8" cy="573.2" r="7.2"/><circle cx="1913.3" cy="573.5" r="7.2"/><circle cx="1933.8" cy="573.8" r="7.2"/><circle cx="1954.4" cy="574.2" r="7.2"/><circle cx="1974.9" cy="574.5" r="7.2"/><circle cx="1995.4" cy="574.8" r="7.2"/><circle cx="2016" cy="574.8" r="7.2"/><circle cx="2036.5" cy="575.4" r="7.2"/><circle cx="2057.1" cy="575.8" r="7.2"/><circle cx="2067.3" cy="576.1" r="7.2"/></g>
<g stroke="#000" stroke-width="5.2" fill="none">
<path d="M1533.3 192.2 V578 H2099.2"/>
</g>
<path d="M1533.3 578 H1522.3 M1533.3 481.8 H1522.3 M1533.3 385.6 H1522.3 M1533.3 289.4 H1522.3 M1533.3 193.2 H1522.3 M1533.3 529.9 H1525.3 M1533.3 433.7 H1525.3 M1533.3 337.5 H1525.3 M1533.3 241.3 H1525.3 M1533.3 578 V587 M1636 578 V587 M1738.7 578 V587 M1841.4 578 V587 M1944.1 578 V587 M2046.8 578 V587 M1584.6 578 V584 M1687.3 578 V584 M1790 578 V584 M1892.8 578 V584 M1995.4 578 V584 M2098.2 578 V584" stroke="#000" stroke-width="3.5" fill="none"/>
<g class="t" font-size="54" fill="#000">
<text text-anchor="end" transform="translate(1520.3,592) scale(0.93,1)">0</text>
<text text-anchor="end" transform="translate(1520.3,495.8) scale(0.93,1)">3</text>
<text text-anchor="end" transform="translate(1520.3,399.6) scale(0.93,1)">6</text>
<text text-anchor="end" transform="translate(1520.3,303.4) scale(0.93,1)">9</text>
<text text-anchor="end" transform="translate(1520.3,207.2) scale(0.93,1)">12</text>
<text text-anchor="middle" transform="translate(1533.3,632.5) scale(0.93,1)">0</text>
<text text-anchor="middle" transform="translate(1636,632.5) scale(0.93,1)">10</text>
<text text-anchor="middle" transform="translate(1738.7,632.5) scale(0.93,1)">20</text>
<text text-anchor="middle" transform="translate(1841.4,632.5) scale(0.93,1)">30</text>
<text text-anchor="middle" transform="translate(1944.1,632.5) scale(0.93,1)">40</text>
<text text-anchor="middle" transform="translate(2046.8,632.5) scale(0.93,1)">50</text>
</g>
<text class="bl" font-size="89.6" transform="translate(1558.91,254.2) scale(0.78,1)">(</text>
<text class="bl" font-size="89.6" transform="translate(1630.24,254.2) scale(0.78,1)">)</text>
<text class="bl" font-size="88" transform="translate(1592.70,257.5) scale(0.795,0.990)">c</text>
<path d="M283 903.3 H309 V970 H321 L296 997 L271 970 H283 Z" fill="#ff0000"/>
<path d="M248.5 1049.3 L258.8 1046.4 L279.5 1031.6 L300.1 1018.8 L320.7 1008.9 L341.4 982.3 L362 972 L382.7 963.7 L403.3 968.8 L423.9 968.8 L444.6 966.2 L465.2 961.1 L485.9 961.1 L506.5 977.1 L527.1 979.4 L547.8 979.4 L568.4 990.3 L589.1 1011.8 L609.7 1022.3 L630.3 1030.4 L651 1032.9 L671.6 1035.8 L692.3 1038.4 L712.9 1043.8 L733.5 1048.3 L754.2 1051.8 L774.8 1054.1 L785.1 1054.7" fill="none" stroke="#ff0000" stroke-width="7" stroke-linejoin="round"/>
<g fill="#ff0000"><circle cx="248.5" cy="1049.3" r="7.2"/><circle cx="258.8" cy="1046.4" r="7.2"/><circle cx="279.5" cy="1031.6" r="7.2"/><circle cx="300.1" cy="1018.8" r="7.2"/><circle cx="320.7" cy="1008.9" r="7.2"/><circle cx="341.4" cy="982.3" r="7.2"/><circle cx="362" cy="972" r="7.2"/><circle cx="382.7" cy="963.7" r="7.2"/><circle cx="403.3" cy="968.8" r="7.2"/><circle cx="423.9" cy="968.8" r="7.2"/><circle cx="444.6" cy="966.2" r="7.2"/><circle cx="465.2" cy="961.1" r="7.2"/><circle cx="485.9" cy="961.1" r="7.2"/><circle cx="506.5" cy="977.1" r="7.2"/><circle cx="527.1" cy="979.4" r="7.2"/><circle cx="547.8" cy="979.4" r="7.2"/><circle cx="568.4" cy="990.3" r="7.2"/><circle cx="589.1" cy="1011.8" r="7.2"/><circle cx="609.7" cy="1022.3" r="7.2"/><circle cx="630.3" cy="1030.4" r="7.2"/><circle cx="651" cy="1032.9" r="7.2"/><circle cx="671.6" cy="1035.8" r="7.2"/><circle cx="692.3" cy="1038.4" r="7.2"/><circle cx="712.9" cy="1043.8" r="7.2"/><circle cx="733.5" cy="1048.3" r="7.2"/><circle cx="754.2" cy="1051.8" r="7.2"/><circle cx="774.8" cy="1054.1" r="7.2"/><circle cx="785.1" cy="1054.7" r="7.2"/></g>
<path d="M248.5 1049.3 L258.8 1046.4 L279.5 1028.4 L300.1 1008.9 L320.7 993.2 L341.4 977.1 L362 972 L382.7 975.5 L403.3 979.4 L423.9 982.3 L444.6 984.8 L465.2 987.4 L485.9 987.4 L506.5 987.4 L527.1 987.4 L547.8 987.4 L568.4 987.4 L589.1 993.2 L609.7 998.3 L630.3 1000.9 L651 1002.1 L671.6 1003.7 L692.3 1008.9 L712.9 1013.4 L733.5 1020.4 L754.2 1030.4 L774.8 1039.7 L785.1 1043.5" fill="none" stroke="#000000" stroke-width="7" stroke-linejoin="round"/>
<g fill="#000000"><circle cx="248.5" cy="1049.3" r="7.2"/><circle cx="258.8" cy="1046.4" r="7.2"/><circle cx="279.5" cy="1028.4" r="7.2"/><circle cx="300.1" cy="1008.9" r="7.2"/><circle cx="320.7" cy="993.2" r="7.2"/><circle cx="341.4" cy="977.1" r="7.2"/><circle cx="362" cy="972" r="7.2"/><circle cx="382.7" cy="975.5" r="7.2"/><circle cx="403.3" cy="979.4" r="7.2"/><circle cx="423.9" cy="982.3" r="7.2"/><circle cx="444.6" cy="984.8" r="7.2"/><circle cx="465.2" cy="987.4" r="7.2"/><circle cx="485.9" cy="987.4" r="7.2"/><circle cx="506.5" cy="987.4" r="7.2"/><circle cx="527.1" cy="987.4" r="7.2"/><circle cx="547.8" cy="987.4" r="7.2"/><circle cx="568.4" cy="987.4" r="7.2"/><circle cx="589.1" cy="993.2" r="7.2"/><circle cx="609.7" cy="998.3" r="7.2"/><circle cx="630.3" cy="1000.9" r="7.2"/><circle cx="651" cy="1002.1" r="7.2"/><circle cx="671.6" cy="1003.7" r="7.2"/><circle cx="692.3" cy="1008.9" r="7.2"/><circle cx="712.9" cy="1013.4" r="7.2"/><circle cx="733.5" cy="1020.4" r="7.2"/><circle cx="754.2" cy="1030.4" r="7.2"/><circle cx="774.8" cy="1039.7" r="7.2"/><circle cx="785.1" cy="1043.5" r="7.2"/></g>
<path d="M248.5 1049.3 L258.8 1046.4 L279.5 1031.6 L300.1 1015.6 L320.7 982.3 L341.4 958.2 L362 953.1 L382.7 953.1 L403.3 955.6 L423.9 950.2 L444.6 950.2 L465.2 947.6 L485.9 942.2 L506.5 958.2 L527.1 961.1 L547.8 961.1 L568.4 977.1 L589.1 993.2 L609.7 1003.7 L630.3 1008.9 L651 1014.3 L671.6 1016.9 L692.3 1019.5 L712.9 1023.3 L733.5 1030 L754.2 1038.4 L774.8 1044.5 L785.1 1046.4" fill="none" stroke="#00ff00" stroke-width="7" stroke-linejoin="round"/>
<g fill="#00ff00"><circle cx="248.5" cy="1049.3" r="7.2"/><circle cx="258.8" cy="1046.4" r="7.2"/><circle cx="279.5" cy="1031.6" r="7.2"/><circle cx="300.1" cy="1015.6" r="7.2"/><circle cx="320.7" cy="982.3" r="7.2"/><circle cx="341.4" cy="958.2" r="7.2"/><circle cx="362" cy="953.1" r="7.2"/><circle cx="382.7" cy="953.1" r="7.2"/><circle cx="403.3" cy="955.6" r="7.2"/><circle cx="423.9" cy="950.2" r="7.2"/><circle cx="444.6" cy="950.2" r="7.2"/><circle cx="465.2" cy="947.6" r="7.2"/><circle cx="485.9" cy="942.2" r="7.2"/><circle cx="506.5" cy="958.2" r="7.2"/><circle cx="527.1" cy="961.1" r="7.2"/><circle cx="547.8" cy="961.1" r="7.2"/><circle cx="568.4" cy="977.1" r="7.2"/><circle cx="589.1" cy="993.2" r="7.2"/><circle cx="609.7" cy="1003.7" r="7.2"/><circle cx="630.3" cy="1008.9" r="7.2"/><circle cx="651" cy="1014.3" r="7.2"/><circle cx="671.6" cy="1016.9" r="7.2"/><circle cx="692.3" cy="1019.5" r="7.2"/><circle cx="712.9" cy="1023.3" r="7.2"/><circle cx="733.5" cy="1030" r="7.2"/><circle cx="754.2" cy="1038.4" r="7.2"/><circle cx="774.8" cy="1044.5" r="7.2"/><circle cx="785.1" cy="1046.4" r="7.2"/></g>
<path d="M248.5 1049.3 L258.8 1046.4 L279.5 1032.9 L300.1 1021.1 L320.7 998.3 L341.4 968.8 L362 945.1 L382.7 937 L403.3 933.8 L423.9 926.1 L444.6 922.6 L465.2 919.4 L485.9 919.4 L506.5 910.1 L527.1 919.4 L547.8 929 L568.4 933.8 L589.1 938 L609.7 941.8 L630.3 949.5 L651 968.8 L671.6 970.1 L692.3 982.3 L712.9 982.3 L733.5 999.6 L754.2 1014.3 L774.8 1018.8 L785.1 1019.5" fill="none" stroke="#0000ff" stroke-width="7" stroke-linejoin="round"/>
<g fill="#0000ff"><circle cx="248.5" cy="1049.3" r="7.2"/><circle cx="258.8" cy="1046.4" r="7.2"/><circle cx="279.5" cy="1032.9" r="7.2"/><circle cx="300.1" cy="1021.1" r="7.2"/><circle cx="320.7" cy="998.3" r="7.2"/><circle cx="341.4" cy="968.8" r="7.2"/><circle cx="362" cy="945.1" r="7.2"/><circle cx="382.7" cy="937" r="7.2"/><circle cx="403.3" cy="933.8" r="7.2"/><circle cx="423.9" cy="926.1" r="7.2"/><circle cx="444.6" cy="922.6" r="7.2"/><circle cx="465.2" cy="919.4" r="7.2"/><circle cx="485.9" cy="919.4" r="7.2"/><circle cx="506.5" cy="910.1" r="7.2"/><circle cx="527.1" cy="919.4" r="7.2"/><circle cx="547.8" cy="929" r="7.2"/><circle cx="568.4" cy="933.8" r="7.2"/><circle cx="589.1" cy="938" r="7.2"/><circle cx="609.7" cy="941.8" r="7.2"/><circle cx="630.3" cy="949.5" r="7.2"/><circle cx="651" cy="968.8" r="7.2"/><circle cx="671.6" cy="970.1" r="7.2"/><circle cx="692.3" cy="982.3" r="7.2"/><circle cx="712.9" cy="982.3" r="7.2"/><circle cx="733.5" cy="999.6" r="7.2"/><circle cx="754.2" cy="1014.3" r="7.2"/><circle cx="774.8" cy="1018.8" r="7.2"/><circle cx="785.1" cy="1019.5" r="7.2"/></g>
<path d="M382.7 925.8 V948.3 M378.7 925.8 H386.7 M378.7 948.3 H386.7 M403.3 921 V946.7 M399.3 921 H407.3 M399.3 946.7 H407.3 M423.9 902.1 V950.2 M419.9 902.1 H427.9 M419.9 950.2 H427.9 M444.6 908.2 V937 M440.6 908.2 H448.6 M440.6 937 H448.6 M485.9 909.8 V929 M481.9 909.8 H489.9 M481.9 929 H489.9 M547.8 914.6 V943.5 M543.8 914.6 H551.8 M543.8 943.5 H551.8 M568.4 921 V946.7 M564.4 921 H572.4 M564.4 946.7 H572.4 M589.1 920.4 V955.6 M585.1 920.4 H593.1 M585.1 955.6 H593.1 M609.7 930.6 V953.1 M605.7 930.6 H613.7 M605.7 953.1 H613.7 M630.3 935.1 V964 M626.3 935.1 H634.3 M626.3 964 H634.3 M651 956 V981.6 M647 956 H655 M647 981.6 H655 M723.2 974.9 V1007 M719.2 974.9 H727.2 M719.2 1007 H727.2 M785.1 1005 V1033.9 M781.1 1005 H789.1 M781.1 1033.9 H789.1" stroke="#0000ff" stroke-width="2" fill="none"/>
<g stroke="#000" stroke-width="5.2" fill="none">
<path d="M248.5 671.5 V1057.3 H817.1"/>
</g>
<path d="M248.5 1057.3 H237.5 M248.5 961.1 H237.5 M248.5 864.9 H237.5 M248.5 768.7 H237.5 M248.5 672.5 H237.5 M248.5 1009.2 H240.5 M248.5 913 H240.5 M248.5 816.8 H240.5 M248.5 720.6 H240.5 M248.5 1057.3 V1066.3 M351.7 1057.3 V1066.3 M454.9 1057.3 V1066.3 M558.1 1057.3 V1066.3 M661.3 1057.3 V1066.3 M764.5 1057.3 V1066.3 M300.1 1057.3 V1063.3 M403.3 1057.3 V1063.3 M506.5 1057.3 V1063.3 M609.7 1057.3 V1063.3 M712.9 1057.3 V1063.3 M816.1 1057.3 V1063.3" stroke="#000" stroke-width="3.5" fill="none"/>
<g class="t" font-size="54" fill="#000">
<text text-anchor="end" transform="translate(235.5,1071.3) scale(0.93,1)">0</text>
<text text-anchor="end" transform="translate(235.5,975.1) scale(0.93,1)">3</text>
<text text-anchor="end" transform="translate(235.5,878.9) scale(0.93,1)">6</text>
<text text-anchor="end" transform="translate(235.5,782.7) scale(0.93,1)">9</text>
<text text-anchor="end" transform="translate(235.5,686.5) scale(0.93,1)">12</text>
<text text-anchor="middle" transform="translate(248.5,1111.8) scale(0.93,1)">0</text>
<text text-anchor="middle" transform="translate(351.7,1111.8) scale(0.93,1)">10</text>
<text text-anchor="middle" transform="translate(454.9,1111.8) scale(0.93,1)">20</text>
<text text-anchor="middle" transform="translate(558.1,1111.8) scale(0.93,1)">30</text>
<text text-anchor="middle" transform="translate(661.3,1111.8) scale(0.93,1)">40</text>
<text text-anchor="middle" transform="translate(764.5,1111.8) scale(0.93,1)">50</text>
</g>
<text class="bl" font-size="90.1" transform="translate(271.69,729.5) scale(0.78,1)">(</text>
<text class="bl" font-size="90.1" transform="translate(363.72,729.5) scale(0.78,1)">)</text>
<text class="bl" font-size="88" transform="translate(305.45,732) scale(0.952,1.050)">d</text>
<path d="M915.3 903.3 H941.3 V970 H953.3 L928.3 997 L903.3 970 H915.3 Z" fill="#ff0000"/>
<path d="M888.6 1044.5 L898.9 1040.9 L919.5 1031.6 L940.1 1018.8 L960.6 998.3 L981.2 977.1 L1001.8 977.1 L1022.4 977.1 L1043 977.1 L1063.5 974.2 L1084.1 968.8 L1104.7 961.1 L1125.3 971.7 L1145.8 984.8 L1166.4 987.4 L1187 987.4 L1207.6 998.3 L1228.2 1014.3 L1248.8 1019.5 L1269.3 1027.8 L1289.9 1027.8 L1310.5 1027.8 L1331.1 1030.4 L1351.7 1034.2 L1372.2 1039.7 L1392.8 1046.4 L1413.4 1050.9 L1423.7 1051.8" fill="none" stroke="#ff0000" stroke-width="7" stroke-linejoin="round"/>
<g fill="#ff0000"><circle cx="888.6" cy="1044.5" r="7.2"/><circle cx="898.9" cy="1040.9" r="7.2"/><circle cx="919.5" cy="1031.6" r="7.2"/><circle cx="940.1" cy="1018.8" r="7.2"/><circle cx="960.6" cy="998.3" r="7.2"/><circle cx="981.2" cy="977.1" r="7.2"/><circle cx="1001.8" cy="977.1" r="7.2"/><circle cx="1022.4" cy="977.1" r="7.2"/><circle cx="1043" cy="977.1" r="7.2"/><circle cx="1063.5" cy="974.2" r="7.2"/><circle cx="1084.1" cy="968.8" r="7.2"/><circle cx="1104.7" cy="961.1" r="7.2"/><circle cx="1125.3" cy="971.7" r="7.2"/><circle cx="1145.8" cy="984.8" r="7.2"/><circle cx="1166.4" cy="987.4" r="7.2"/><circle cx="1187" cy="987.4" r="7.2"/><circle cx="1207.6" cy="998.3" r="7.2"/><circle cx="1228.2" cy="1014.3" r="7.2"/><circle cx="1248.8" cy="1019.5" r="7.2"/><circle cx="1269.3" cy="1027.8" r="7.2"/><circle cx="1289.9" cy="1027.8" r="7.2"/><circle cx="1310.5" cy="1027.8" r="7.2"/><circle cx="1331.1" cy="1030.4" r="7.2"/><circle cx="1351.7" cy="1034.2" r="7.2"/><circle cx="1372.2" cy="1039.7" r="7.2"/><circle cx="1392.8" cy="1046.4" r="7.2"/><circle cx="1413.4" cy="1050.9" r="7.2"/><circle cx="1423.7" cy="1051.8" r="7.2"/></g>
<path d="M888.6 1044.5 L898.9 1040.9 L919.5 1028.4 L940.1 1008.9 L960.6 982.3 L981.2 971.7 L1001.8 977.1 L1022.4 979.4 L1043 982.3 L1063.5 984.8 L1084.1 982.3 L1104.7 989 L1125.3 989 L1145.8 990.3 L1166.4 990 L1187 990 L1207.6 993.2 L1228.2 999.6 L1248.8 1002.8 L1269.3 1003.7 L1289.9 1003.7 L1310.5 1006.3 L1331.1 1011.8 L1351.7 1015.6 L1372.2 1022 L1392.8 1032.9 L1413.4 1042.9 L1423.7 1046.4" fill="none" stroke="#000000" stroke-width="7" stroke-linejoin="round"/>
<g fill="#000000"><circle cx="888.6" cy="1044.5" r="7.2"/><circle cx="898.9" cy="1040.9" r="7.2"/><circle cx="919.5" cy="1028.4" r="7.2"/><circle cx="940.1" cy="1008.9" r="7.2"/><circle cx="960.6" cy="982.3" r="7.2"/><circle cx="981.2" cy="971.7" r="7.2"/><circle cx="1001.8" cy="977.1" r="7.2"/><circle cx="1022.4" cy="979.4" r="7.2"/><circle cx="1043" cy="982.3" r="7.2"/><circle cx="1063.5" cy="984.8" r="7.2"/><circle cx="1084.1" cy="982.3" r="7.2"/><circle cx="1104.7" cy="989" r="7.2"/><circle cx="1125.3" cy="989" r="7.2"/><circle cx="1145.8" cy="990.3" r="7.2"/><circle cx="1166.4" cy="990" r="7.2"/><circle cx="1187" cy="990" r="7.2"/><circle cx="1207.6" cy="993.2" r="7.2"/><circle cx="1228.2" cy="999.6" r="7.2"/><circle cx="1248.8" cy="1002.8" r="7.2"/><circle cx="1269.3" cy="1003.7" r="7.2"/><circle cx="1289.9" cy="1003.7" r="7.2"/><circle cx="1310.5" cy="1006.3" r="7.2"/><circle cx="1331.1" cy="1011.8" r="7.2"/><circle cx="1351.7" cy="1015.6" r="7.2"/><circle cx="1372.2" cy="1022" r="7.2"/><circle cx="1392.8" cy="1032.9" r="7.2"/><circle cx="1413.4" cy="1042.9" r="7.2"/><circle cx="1423.7" cy="1046.4" r="7.2"/></g>
<path d="M888.6 1044.5 L898.9 1040.9 L919.5 1030 L940.1 1015.6 L960.6 993.2 L981.2 971.7 L1001.8 966.2 L1022.4 958.2 L1043 958.2 L1063.5 953.1 L1084.1 950.2 L1104.7 950.2 L1125.3 955.6 L1145.8 963.7 L1166.4 966.2 L1187 966.2 L1207.6 977.1 L1228.2 995.7 L1248.8 998.3 L1269.3 1014.3 L1289.9 1019.5 L1310.5 1022.3 L1331.1 1024.9 L1351.7 1024.9 L1372.2 1030 L1392.8 1038.4 L1413.4 1044.5 L1423.7 1046.4" fill="none" stroke="#00ff00" stroke-width="7" stroke-linejoin="round"/>
<g fill="#00ff00"><circle cx="888.6" cy="1044.5" r="7.2"/><circle cx="898.9" cy="1040.9" r="7.2"/><circle cx="919.5" cy="1030" r="7.2"/><circle cx="940.1" cy="1015.6" r="7.2"/><circle cx="960.6" cy="993.2" r="7.2"/><circle cx="981.2" cy="971.7" r="7.2"/><circle cx="1001.8" cy="966.2" r="7.2"/><circle cx="1022.4" cy="958.2" r="7.2"/><circle cx="1043" cy="958.2" r="7.2"/><circle cx="1063.5" cy="953.1" r="7.2"/><circle cx="1084.1" cy="950.2" r="7.2"/><circle cx="1104.7" cy="950.2" r="7.2"/><circle cx="1125.3" cy="955.6" r="7.2"/><circle cx="1145.8" cy="963.7" r="7.2"/><circle cx="1166.4" cy="966.2" r="7.2"/><circle cx="1187" cy="966.2" r="7.2"/><circle cx="1207.6" cy="977.1" r="7.2"/><circle cx="1228.2" cy="995.7" r="7.2"/><circle cx="1248.8" cy="998.3" r="7.2"/><circle cx="1269.3" cy="1014.3" r="7.2"/><circle cx="1289.9" cy="1019.5" r="7.2"/><circle cx="1310.5" cy="1022.3" r="7.2"/><circle cx="1331.1" cy="1024.9" r="7.2"/><circle cx="1351.7" cy="1024.9" r="7.2"/><circle cx="1372.2" cy="1030" r="7.2"/><circle cx="1392.8" cy="1038.4" r="7.2"/><circle cx="1413.4" cy="1044.5" r="7.2"/><circle cx="1423.7" cy="1046.4" r="7.2"/></g>
<path d="M888.6 1044.5 L898.9 1040.9 L919.5 1031.6 L940.1 1019.5 L960.6 1000.9 L981.2 962.4 L1001.8 958.2 L1022.4 937 L1043 937 L1063.5 938.3 L1084.1 926.1 L1104.7 937 L1125.3 937 L1145.8 946.3 L1166.4 947.6 L1187 942.2 L1207.6 945.1 L1228.2 974.2 L1248.8 968.8 L1269.3 971.7 L1289.9 979.7 L1310.5 984.8 L1331.1 979.7 L1351.7 988.3 L1372.2 999.6 L1392.8 1019.5 L1413.4 1026.8 L1423.7 1027.8" fill="none" stroke="#0000ff" stroke-width="7" stroke-linejoin="round"/>
<g fill="#0000ff"><circle cx="888.6" cy="1044.5" r="7.2"/><circle cx="898.9" cy="1040.9" r="7.2"/><circle cx="919.5" cy="1031.6" r="7.2"/><circle cx="940.1" cy="1019.5" r="7.2"/><circle cx="960.6" cy="1000.9" r="7.2"/><circle cx="981.2" cy="962.4" r="7.2"/><circle cx="1001.8" cy="958.2" r="7.2"/><circle cx="1022.4" cy="937" r="7.2"/><circle cx="1043" cy="937" r="7.2"/><circle cx="1063.5" cy="938.3" r="7.2"/><circle cx="1084.1" cy="926.1" r="7.2"/><circle cx="1104.7" cy="937" r="7.2"/><circle cx="1125.3" cy="937" r="7.2"/><circle cx="1145.8" cy="946.3" r="7.2"/><circle cx="1166.4" cy="947.6" r="7.2"/><circle cx="1187" cy="942.2" r="7.2"/><circle cx="1207.6" cy="945.1" r="7.2"/><circle cx="1228.2" cy="974.2" r="7.2"/><circle cx="1248.8" cy="968.8" r="7.2"/><circle cx="1269.3" cy="971.7" r="7.2"/><circle cx="1289.9" cy="979.7" r="7.2"/><circle cx="1310.5" cy="984.8" r="7.2"/><circle cx="1331.1" cy="979.7" r="7.2"/><circle cx="1351.7" cy="988.3" r="7.2"/><circle cx="1372.2" cy="999.6" r="7.2"/><circle cx="1392.8" cy="1019.5" r="7.2"/><circle cx="1413.4" cy="1026.8" r="7.2"/><circle cx="1423.7" cy="1027.8" r="7.2"/></g>
<path d="M1022.4 921 V953.1 M1018.4 921 H1026.4 M1018.4 953.1 H1026.4 M1043 922.6 V951.5 M1039 922.6 H1047 M1039 951.5 H1047 M1104.7 925.8 V948.3 M1100.7 925.8 H1108.7 M1100.7 948.3 H1108.7 M1207.6 927.4 V962.7 M1203.6 927.4 H1211.6 M1203.6 962.7 H1211.6 M1269.3 957.2 V986.1 M1265.3 957.2 H1273.3 M1265.3 986.1 H1273.3 M1331.1 962.1 V997.3 M1327.1 962.1 H1335.1 M1327.1 997.3 H1335.1" stroke="#0000ff" stroke-width="2" fill="none"/>
<g stroke="#000" stroke-width="5.2" fill="none">
<path d="M888.6 671.5 V1057.3 H1455.5"/>
</g>
<path d="M888.6 1057.3 H877.6 M888.6 961.1 H877.6 M888.6 864.9 H877.6 M888.6 768.7 H877.6 M888.6 672.5 H877.6 M888.6 1009.2 H880.6 M888.6 913 H880.6 M888.6 816.8 H880.6 M888.6 720.6 H880.6 M888.6 1057.3 V1066.3 M991.5 1057.3 V1066.3 M1094.4 1057.3 V1066.3 M1197.3 1057.3 V1066.3 M1300.2 1057.3 V1066.3 M1403.1 1057.3 V1066.3 M940.1 1057.3 V1063.3 M1043 1057.3 V1063.3 M1145.8 1057.3 V1063.3 M1248.8 1057.3 V1063.3 M1351.7 1057.3 V1063.3 M1454.5 1057.3 V1063.3" stroke="#000" stroke-width="3.5" fill="none"/>
<g class="t" font-size="54" fill="#000">
<text text-anchor="end" transform="translate(875.6,1071.3) scale(0.93,1)">0</text>
<text text-anchor="end" transform="translate(875.6,975.1) scale(0.93,1)">3</text>
<text text-anchor="end" transform="translate(875.6,878.9) scale(0.93,1)">6</text>
<text text-anchor="end" transform="translate(875.6,782.7) scale(0.93,1)">9</text>
<text text-anchor="end" transform="translate(875.6,686.5) scale(0.93,1)">12</text>
<text text-anchor="middle" transform="translate(888.6,1111.8) scale(0.93,1)">0</text>
<text text-anchor="middle" transform="translate(991.5,1111.8) scale(0.93,1)">10</text>
<text text-anchor="middle" transform="translate(1094.4,1111.8) scale(0.93,1)">20</text>
<text text-anchor="middle" transform="translate(1197.3,1111.8) scale(0.93,1)">30</text>
<text text-anchor="middle" transform="translate(1300.2,1111.8) scale(0.93,1)">40</text>
<text text-anchor="middle" transform="translate(1403.1,1111.8) scale(0.93,1)">50</text>
</g>
<text class="bl" font-size="91" transform="translate(907.75,733.1) scale(0.78,1)">(</text>
<text class="bl" font-size="91" transform="translate(995.13,733.1) scale(0.78,1)">)</text>
<text class="bl" font-size="88" transform="translate(939.67,736.5) scale(1.030,0.980)">e</text>
<path d="M1556 903.3 H1582 V970 H1594 L1569 997 L1544 970 H1556 Z" fill="#ff0000"/>
<path d="M1533.3 1042.9 L1543.6 1040.9 L1564.1 1031.6 L1584.6 1009.2 L1605.2 977.1 L1625.7 968.8 L1646.3 958.2 L1666.8 953.1 L1687.3 953.1 L1707.9 953.1 L1728.4 953.1 L1749 950.2 L1769.5 955.6 L1790 963.7 L1810.6 971.7 L1831.1 971.7 L1851.7 982.3 L1872.2 987.4 L1892.8 1006.3 L1913.3 1014.3 L1933.8 1019.5 L1954.4 1022.3 L1974.9 1024.9 L1995.4 1030.4 L2016 1032.9 L2036.5 1035.8 L2057.1 1039.7 L2067.3 1040.9" fill="none" stroke="#ff0000" stroke-width="7" stroke-linejoin="round"/>
<g fill="#ff0000"><circle cx="1533.3" cy="1042.9" r="7.2"/><circle cx="1543.6" cy="1040.9" r="7.2"/><circle cx="1564.1" cy="1031.6" r="7.2"/><circle cx="1584.6" cy="1009.2" r="7.2"/><circle cx="1605.2" cy="977.1" r="7.2"/><circle cx="1625.7" cy="968.8" r="7.2"/><circle cx="1646.3" cy="958.2" r="7.2"/><circle cx="1666.8" cy="953.1" r="7.2"/><circle cx="1687.3" cy="953.1" r="7.2"/><circle cx="1707.9" cy="953.1" r="7.2"/><circle cx="1728.4" cy="953.1" r="7.2"/><circle cx="1749" cy="950.2" r="7.2"/><circle cx="1769.5" cy="955.6" r="7.2"/><circle cx="1790" cy="963.7" r="7.2"/><circle cx="1810.6" cy="971.7" r="7.2"/><circle cx="1831.1" cy="971.7" r="7.2"/><circle cx="1851.7" cy="982.3" r="7.2"/><circle cx="1872.2" cy="987.4" r="7.2"/><circle cx="1892.8" cy="1006.3" r="7.2"/><circle cx="1913.3" cy="1014.3" r="7.2"/><circle cx="1933.8" cy="1019.5" r="7.2"/><circle cx="1954.4" cy="1022.3" r="7.2"/><circle cx="1974.9" cy="1024.9" r="7.2"/><circle cx="1995.4" cy="1030.4" r="7.2"/><circle cx="2016" cy="1032.9" r="7.2"/><circle cx="2036.5" cy="1035.8" r="7.2"/><circle cx="2057.1" cy="1039.7" r="7.2"/><circle cx="2067.3" cy="1040.9" r="7.2"/></g>
<path d="M1533.3 1042.9 L1543.6 1040.9 L1564.1 1031.6 L1584.6 1009.2 L1605.2 983.5 L1625.7 977.1 L1646.3 977.1 L1666.8 971.7 L1687.3 979.4 L1707.9 982.3 L1728.4 984.8 L1749 990.3 L1769.5 990.3 L1790 990.3 L1810.6 987.4 L1831.1 990.3 L1851.7 990.3 L1872.2 993.2 L1892.8 1003.7 L1913.3 1000.9 L1933.8 1003.7 L1954.4 1003.7 L1974.9 1008.9 L1995.4 1016.9 L2016 1024.9 L2036.5 1030.4 L2057.1 1039.7 L2067.3 1043.5" fill="none" stroke="#000000" stroke-width="7" stroke-linejoin="round"/>
<g fill="#000000"><circle cx="1533.3" cy="1042.9" r="7.2"/><circle cx="1543.6" cy="1040.9" r="7.2"/><circle cx="1564.1" cy="1031.6" r="7.2"/><circle cx="1584.6" cy="1009.2" r="7.2"/><circle cx="1605.2" cy="983.5" r="7.2"/><circle cx="1625.7" cy="977.1" r="7.2"/><circle cx="1646.3" cy="977.1" r="7.2"/><circle cx="1666.8" cy="971.7" r="7.2"/><circle cx="1687.3" cy="979.4" r="7.2"/><circle cx="1707.9" cy="982.3" r="7.2"/><circle cx="1728.4" cy="984.8" r="7.2"/><circle cx="1749" cy="990.3" r="7.2"/><circle cx="1769.5" cy="990.3" r="7.2"/><circle cx="1790" cy="990.3" r="7.2"/><circle cx="1810.6" cy="987.4" r="7.2"/><circle cx="1831.1" cy="990.3" r="7.2"/><circle cx="1851.7" cy="990.3" r="7.2"/><circle cx="1872.2" cy="993.2" r="7.2"/><circle cx="1892.8" cy="1003.7" r="7.2"/><circle cx="1913.3" cy="1000.9" r="7.2"/><circle cx="1933.8" cy="1003.7" r="7.2"/><circle cx="1954.4" cy="1003.7" r="7.2"/><circle cx="1974.9" cy="1008.9" r="7.2"/><circle cx="1995.4" cy="1016.9" r="7.2"/><circle cx="2016" cy="1024.9" r="7.2"/><circle cx="2036.5" cy="1030.4" r="7.2"/><circle cx="2057.1" cy="1039.7" r="7.2"/><circle cx="2067.3" cy="1043.5" r="7.2"/></g>
<path d="M1533.3 1042.9 L1543.6 1040.9 L1564.1 1031.6 L1584.6 1010.8 L1605.2 984.8 L1625.7 963.7 L1646.3 955.6 L1666.8 947.6 L1687.3 947.6 L1707.9 947.6 L1728.4 945.1 L1749 942.2 L1769.5 939.6 L1790 947.6 L1810.6 953.1 L1831.1 950.2 L1851.7 977.1 L1872.2 1006.3 L1892.8 1019.5 L1913.3 1027.8 L1933.8 1030.4 L1954.4 1032.9 L1974.9 1035.8 L1995.4 1041.3 L2016 1043.5 L2036.5 1046.4 L2057.1 1048.3 L2067.3 1049" fill="none" stroke="#00ff00" stroke-width="7" stroke-linejoin="round"/>
<g fill="#00ff00"><circle cx="1533.3" cy="1042.9" r="7.2"/><circle cx="1543.6" cy="1040.9" r="7.2"/><circle cx="1564.1" cy="1031.6" r="7.2"/><circle cx="1584.6" cy="1010.8" r="7.2"/><circle cx="1605.2" cy="984.8" r="7.2"/><circle cx="1625.7" cy="963.7" r="7.2"/><circle cx="1646.3" cy="955.6" r="7.2"/><circle cx="1666.8" cy="947.6" r="7.2"/><circle cx="1687.3" cy="947.6" r="7.2"/><circle cx="1707.9" cy="947.6" r="7.2"/><circle cx="1728.4" cy="945.1" r="7.2"/><circle cx="1749" cy="942.2" r="7.2"/><circle cx="1769.5" cy="939.6" r="7.2"/><circle cx="1790" cy="947.6" r="7.2"/><circle cx="1810.6" cy="953.1" r="7.2"/><circle cx="1831.1" cy="950.2" r="7.2"/><circle cx="1851.7" cy="977.1" r="7.2"/><circle cx="1872.2" cy="1006.3" r="7.2"/><circle cx="1892.8" cy="1019.5" r="7.2"/><circle cx="1913.3" cy="1027.8" r="7.2"/><circle cx="1933.8" cy="1030.4" r="7.2"/><circle cx="1954.4" cy="1032.9" r="7.2"/><circle cx="1974.9" cy="1035.8" r="7.2"/><circle cx="1995.4" cy="1041.3" r="7.2"/><circle cx="2016" cy="1043.5" r="7.2"/><circle cx="2036.5" cy="1046.4" r="7.2"/><circle cx="2057.1" cy="1048.3" r="7.2"/><circle cx="2067.3" cy="1049" r="7.2"/></g>
<path d="M1533.3 1042.9 L1543.6 1040.9 L1564.1 1035.5 L1584.6 1011.8 L1605.2 971.7 L1625.7 947.6 L1646.3 939.6 L1666.8 929 L1687.3 929 L1707.9 931.6 L1728.4 931.6 L1749 926.1 L1769.5 921 L1790 915.6 L1810.6 929 L1831.1 921 L1851.7 931.6 L1872.2 947.6 L1892.8 993.2 L1913.3 1006.3 L1933.8 1011.8 L1954.4 1014.3 L1974.9 1019.5 L1995.4 1030.4 L2016 1038.4 L2036.5 1046.4 L2057.1 1048.3 L2067.3 1049" fill="none" stroke="#0000ff" stroke-width="7" stroke-linejoin="round"/>
<g fill="#0000ff"><circle cx="1533.3" cy="1042.9" r="7.2"/><circle cx="1543.6" cy="1040.9" r="7.2"/><circle cx="1564.1" cy="1035.5" r="7.2"/><circle cx="1584.6" cy="1011.8" r="7.2"/><circle cx="1605.2" cy="971.7" r="7.2"/><circle cx="1625.7" cy="947.6" r="7.2"/><circle cx="1646.3" cy="939.6" r="7.2"/><circle cx="1666.8" cy="929" r="7.2"/><circle cx="1687.3" cy="929" r="7.2"/><circle cx="1707.9" cy="931.6" r="7.2"/><circle cx="1728.4" cy="931.6" r="7.2"/><circle cx="1749" cy="926.1" r="7.2"/><circle cx="1769.5" cy="921" r="7.2"/><circle cx="1790" cy="915.6" r="7.2"/><circle cx="1810.6" cy="929" r="7.2"/><circle cx="1831.1" cy="921" r="7.2"/><circle cx="1851.7" cy="931.6" r="7.2"/><circle cx="1872.2" cy="947.6" r="7.2"/><circle cx="1892.8" cy="993.2" r="7.2"/><circle cx="1913.3" cy="1006.3" r="7.2"/><circle cx="1933.8" cy="1011.8" r="7.2"/><circle cx="1954.4" cy="1014.3" r="7.2"/><circle cx="1974.9" cy="1019.5" r="7.2"/><circle cx="1995.4" cy="1030.4" r="7.2"/><circle cx="2016" cy="1038.4" r="7.2"/><circle cx="2036.5" cy="1046.4" r="7.2"/><circle cx="2057.1" cy="1048.3" r="7.2"/><circle cx="2067.3" cy="1049" r="7.2"/></g>
<path d="M1646.3 925.2 V954 M1642.3 925.2 H1650.3 M1642.3 954 H1650.3 M1666.8 913 V945.1 M1662.8 913 H1670.8 M1662.8 945.1 H1670.8 M1687.3 913 V945.1 M1683.3 913 H1691.3 M1683.3 945.1 H1691.3 M1707.9 915.6 V947.6 M1703.9 915.6 H1711.9 M1703.9 947.6 H1711.9 M1749 908.5 V943.8 M1745 908.5 H1753 M1745 943.8 H1753 M1769.5 905 V937 M1765.5 905 H1773.5 M1765.5 937 H1773.5 M1851.7 902.7 V960.4 M1847.7 902.7 H1855.7 M1847.7 960.4 H1855.7" stroke="#0000ff" stroke-width="2" fill="none"/>
<g stroke="#000" stroke-width="5.2" fill="none">
<path d="M1533.3 671.5 V1057.3 H2099.2"/>
</g>
<path d="M1533.3 1057.3 H1522.3 M1533.3 961.1 H1522.3 M1533.3 864.9 H1522.3 M1533.3 768.7 H1522.3 M1533.3 672.5 H1522.3 M1533.3 1009.2 H1525.3 M1533.3 913 H1525.3 M1533.3 816.8 H1525.3 M1533.3 720.6 H1525.3 M1533.3 1057.3 V1066.3 M1636 1057.3 V1066.3 M1738.7 1057.3 V1066.3 M1841.4 1057.3 V1066.3 M1944.1 1057.3 V1066.3 M2046.8 1057.3 V1066.3 M1584.6 1057.3 V1063.3 M1687.3 1057.3 V1063.3 M1790 1057.3 V1063.3 M1892.8 1057.3 V1063.3 M1995.4 1057.3 V1063.3 M2098.2 1057.3 V1063.3" stroke="#000" stroke-width="3.5" fill="none"/>
<g class="t" font-size="54" fill="#000">
<text text-anchor="end" transform="translate(1520.3,1071.3) scale(0.93,1)">0</text>
<text text-anchor="end" transform="translate(1520.3,975.1) scale(0.93,1)">3</text>
<text text-anchor="end" transform="translate(1520.3,878.9) scale(0.93,1)">6</text>
<text text-anchor="end" transform="translate(1520.3,782.7) scale(0.93,1)">9</text>
<text text-anchor="end" transform="translate(1520.3,686.5) scale(0.93,1)">12</text>
<text text-anchor="middle" transform="translate(1533.3,1111.8) scale(0.93,1)">0</text>
<text text-anchor="middle" transform="translate(1636,1111.8) scale(0.93,1)">10</text>
<text text-anchor="middle" transform="translate(1738.7,1111.8) scale(0.93,1)">20</text>
<text text-anchor="middle" transform="translate(1841.4,1111.8) scale(0.93,1)">30</text>
<text text-anchor="middle" transform="translate(1944.1,1111.8) scale(0.93,1)">40</text>
<text text-anchor="middle" transform="translate(2046.8,1111.8) scale(0.93,1)">50</text>
</g>
<text class="bl" font-size="91" transform="translate(1561.55,736.9) scale(0.78,1)">(</text>
<text class="bl" font-size="91" transform="translate(1632.13,736.9) scale(0.78,1)">)</text>
<text class="bl" font-size="88" transform="translate(1589.80,740.5) scale(1.136,1.080)">f</text>
<path d="M283 1390 H309 V1456.7 H321 L296 1482 L271 1456.7 H283 Z" fill="#ff0000"/>
<path d="M248.5 1531.1 L258.8 1528.8 L279.5 1515 L300.1 1507.3 L320.7 1473.4 L341.4 1446.1 L362 1443.2 L382.7 1440.6 L403.3 1440.6 L423.9 1443.2 L444.6 1446.1 L465.2 1446.1 L485.9 1444.8 L506.5 1456.7 L527.1 1462.1 L547.8 1470.1 L568.4 1486.2 L589.1 1496.8 L609.7 1507.3 L630.3 1515.4 L651 1517.9 L671.6 1520.8 L692.3 1523.4 L712.9 1523.4 L733.5 1525.3 L754.2 1528.8 L774.8 1531.1 L785.1 1531.4" fill="none" stroke="#ff0000" stroke-width="7" stroke-linejoin="round"/>
<g fill="#ff0000"><circle cx="248.5" cy="1531.1" r="7.2"/><circle cx="258.8" cy="1528.8" r="7.2"/><circle cx="279.5" cy="1515" r="7.2"/><circle cx="300.1" cy="1507.3" r="7.2"/><circle cx="320.7" cy="1473.4" r="7.2"/><circle cx="341.4" cy="1446.1" r="7.2"/><circle cx="362" cy="1443.2" r="7.2"/><circle cx="382.7" cy="1440.6" r="7.2"/><circle cx="403.3" cy="1440.6" r="7.2"/><circle cx="423.9" cy="1443.2" r="7.2"/><circle cx="444.6" cy="1446.1" r="7.2"/><circle cx="465.2" cy="1446.1" r="7.2"/><circle cx="485.9" cy="1444.8" r="7.2"/><circle cx="506.5" cy="1456.7" r="7.2"/><circle cx="527.1" cy="1462.1" r="7.2"/><circle cx="547.8" cy="1470.1" r="7.2"/><circle cx="568.4" cy="1486.2" r="7.2"/><circle cx="589.1" cy="1496.8" r="7.2"/><circle cx="609.7" cy="1507.3" r="7.2"/><circle cx="630.3" cy="1515.4" r="7.2"/><circle cx="651" cy="1517.9" r="7.2"/><circle cx="671.6" cy="1520.8" r="7.2"/><circle cx="692.3" cy="1523.4" r="7.2"/><circle cx="712.9" cy="1523.4" r="7.2"/><circle cx="733.5" cy="1525.3" r="7.2"/><circle cx="754.2" cy="1528.8" r="7.2"/><circle cx="774.8" cy="1531.1" r="7.2"/><circle cx="785.1" cy="1531.4" r="7.2"/></g>
<path d="M248.5 1531.1 L258.8 1528.8 L279.5 1515 L300.1 1495.8 L320.7 1470.1 L341.4 1456.7 L362 1462.1 L382.7 1462.1 L403.3 1467.3 L423.9 1470.1 L444.6 1472.7 L465.2 1475.3 L485.9 1475.3 L506.5 1475.3 L527.1 1472.7 L547.8 1475.3 L568.4 1467.3 L589.1 1475.3 L609.7 1488.7 L630.3 1488.7 L651 1488.7 L671.6 1488.7 L692.3 1493.9 L712.9 1499 L733.5 1505.4 L754.2 1515.4 L774.8 1523.1 L785.1 1525.9" fill="none" stroke="#000000" stroke-width="7" stroke-linejoin="round"/>
<g fill="#000000"><circle cx="248.5" cy="1531.1" r="7.2"/><circle cx="258.8" cy="1528.8" r="7.2"/><circle cx="279.5" cy="1515" r="7.2"/><circle cx="300.1" cy="1495.8" r="7.2"/><circle cx="320.7" cy="1470.1" r="7.2"/><circle cx="341.4" cy="1456.7" r="7.2"/><circle cx="362" cy="1462.1" r="7.2"/><circle cx="382.7" cy="1462.1" r="7.2"/><circle cx="403.3" cy="1467.3" r="7.2"/><circle cx="423.9" cy="1470.1" r="7.2"/><circle cx="444.6" cy="1472.7" r="7.2"/><circle cx="465.2" cy="1475.3" r="7.2"/><circle cx="485.9" cy="1475.3" r="7.2"/><circle cx="506.5" cy="1475.3" r="7.2"/><circle cx="527.1" cy="1472.7" r="7.2"/><circle cx="547.8" cy="1475.3" r="7.2"/><circle cx="568.4" cy="1467.3" r="7.2"/><circle cx="589.1" cy="1475.3" r="7.2"/><circle cx="609.7" cy="1488.7" r="7.2"/><circle cx="630.3" cy="1488.7" r="7.2"/><circle cx="651" cy="1488.7" r="7.2"/><circle cx="671.6" cy="1488.7" r="7.2"/><circle cx="692.3" cy="1493.9" r="7.2"/><circle cx="712.9" cy="1499" r="7.2"/><circle cx="733.5" cy="1505.4" r="7.2"/><circle cx="754.2" cy="1515.4" r="7.2"/><circle cx="774.8" cy="1523.1" r="7.2"/><circle cx="785.1" cy="1525.9" r="7.2"/></g>
<path d="M248.5 1531.1 L258.8 1527.9 L279.5 1509.9 L300.1 1495.8 L320.7 1462.1 L341.4 1448.7 L362 1446.1 L382.7 1448.7 L403.3 1451.2 L423.9 1456.7 L444.6 1459.2 L465.2 1459.2 L485.9 1459.2 L506.5 1459.2 L527.1 1459.2 L547.8 1464.7 L568.4 1480.7 L589.1 1486.2 L609.7 1501.9 L630.3 1504.8 L651 1504.8 L671.6 1504.8 L692.3 1507.3 L712.9 1509.3 L733.5 1513.4 L754.2 1520.8 L774.8 1527.2 L785.1 1528.8" fill="none" stroke="#00ff00" stroke-width="7" stroke-linejoin="round"/>
<g fill="#00ff00"><circle cx="248.5" cy="1531.1" r="7.2"/><circle cx="258.8" cy="1527.9" r="7.2"/><circle cx="279.5" cy="1509.9" r="7.2"/><circle cx="300.1" cy="1495.8" r="7.2"/><circle cx="320.7" cy="1462.1" r="7.2"/><circle cx="341.4" cy="1448.7" r="7.2"/><circle cx="362" cy="1446.1" r="7.2"/><circle cx="382.7" cy="1448.7" r="7.2"/><circle cx="403.3" cy="1451.2" r="7.2"/><circle cx="423.9" cy="1456.7" r="7.2"/><circle cx="444.6" cy="1459.2" r="7.2"/><circle cx="465.2" cy="1459.2" r="7.2"/><circle cx="485.9" cy="1459.2" r="7.2"/><circle cx="506.5" cy="1459.2" r="7.2"/><circle cx="527.1" cy="1459.2" r="7.2"/><circle cx="547.8" cy="1464.7" r="7.2"/><circle cx="568.4" cy="1480.7" r="7.2"/><circle cx="589.1" cy="1486.2" r="7.2"/><circle cx="609.7" cy="1501.9" r="7.2"/><circle cx="630.3" cy="1504.8" r="7.2"/><circle cx="651" cy="1504.8" r="7.2"/><circle cx="671.6" cy="1504.8" r="7.2"/><circle cx="692.3" cy="1507.3" r="7.2"/><circle cx="712.9" cy="1509.3" r="7.2"/><circle cx="733.5" cy="1513.4" r="7.2"/><circle cx="754.2" cy="1520.8" r="7.2"/><circle cx="774.8" cy="1527.2" r="7.2"/><circle cx="785.1" cy="1528.8" r="7.2"/></g>
<path d="M248.5 1531.1 L258.8 1528.8 L279.5 1520.8 L300.1 1493.9 L320.7 1472.7 L341.4 1440.6 L362 1427.2 L382.7 1424.6 L403.3 1430.1 L423.9 1411.1 L444.6 1401.8 L465.2 1398 L485.9 1403.1 L506.5 1414 L527.1 1420.8 L547.8 1419.5 L568.4 1438.1 L589.1 1448.7 L609.7 1477.8 L630.3 1493.9 L651 1501.9 L671.6 1507.3 L692.3 1509.9 L712.9 1509.9 L733.5 1516.6 L754.2 1525.9 L774.8 1528.5 L785.1 1528.8" fill="none" stroke="#0000ff" stroke-width="7" stroke-linejoin="round"/>
<g fill="#0000ff"><circle cx="248.5" cy="1531.1" r="7.2"/><circle cx="258.8" cy="1528.8" r="7.2"/><circle cx="279.5" cy="1520.8" r="7.2"/><circle cx="300.1" cy="1493.9" r="7.2"/><circle cx="320.7" cy="1472.7" r="7.2"/><circle cx="341.4" cy="1440.6" r="7.2"/><circle cx="362" cy="1427.2" r="7.2"/><circle cx="382.7" cy="1424.6" r="7.2"/><circle cx="403.3" cy="1430.1" r="7.2"/><circle cx="423.9" cy="1411.1" r="7.2"/><circle cx="444.6" cy="1401.8" r="7.2"/><circle cx="465.2" cy="1398" r="7.2"/><circle cx="485.9" cy="1403.1" r="7.2"/><circle cx="506.5" cy="1414" r="7.2"/><circle cx="527.1" cy="1420.8" r="7.2"/><circle cx="547.8" cy="1419.5" r="7.2"/><circle cx="568.4" cy="1438.1" r="7.2"/><circle cx="589.1" cy="1448.7" r="7.2"/><circle cx="609.7" cy="1477.8" r="7.2"/><circle cx="630.3" cy="1493.9" r="7.2"/><circle cx="651" cy="1501.9" r="7.2"/><circle cx="671.6" cy="1507.3" r="7.2"/><circle cx="692.3" cy="1509.9" r="7.2"/><circle cx="712.9" cy="1509.9" r="7.2"/><circle cx="733.5" cy="1516.6" r="7.2"/><circle cx="754.2" cy="1525.9" r="7.2"/><circle cx="774.8" cy="1528.5" r="7.2"/><circle cx="785.1" cy="1528.8" r="7.2"/></g>
<path d="M341.4 1426.2 V1455.1 M337.4 1426.2 H345.4 M337.4 1455.1 H345.4 M382.7 1410.2 V1439 M378.7 1410.2 H386.7 M378.7 1439 H386.7 M403.3 1417.2 V1442.9 M399.3 1417.2 H407.3 M399.3 1442.9 H407.3 M485.9 1385.5 V1420.8 M481.9 1385.5 H489.9 M481.9 1420.8 H489.9 M568.4 1423.6 V1452.5 M564.4 1423.6 H572.4 M564.4 1452.5 H572.4" stroke="#0000ff" stroke-width="2" fill="none"/>
<g stroke="#000" stroke-width="5.2" fill="none">
<path d="M248.5 1154.9 V1540.7 H817.1"/>
</g>
<path d="M248.5 1540.7 H237.5 M248.5 1444.5 H237.5 M248.5 1348.3 H237.5 M248.5 1252.1 H237.5 M248.5 1155.9 H237.5 M248.5 1492.6 H240.5 M248.5 1396.4 H240.5 M248.5 1300.2 H240.5 M248.5 1204 H240.5 M248.5 1540.7 V1549.7 M351.7 1540.7 V1549.7 M454.9 1540.7 V1549.7 M558.1 1540.7 V1549.7 M661.3 1540.7 V1549.7 M764.5 1540.7 V1549.7 M300.1 1540.7 V1546.7 M403.3 1540.7 V1546.7 M506.5 1540.7 V1546.7 M609.7 1540.7 V1546.7 M712.9 1540.7 V1546.7 M816.1 1540.7 V1546.7" stroke="#000" stroke-width="3.5" fill="none"/>
<g class="t" font-size="54" fill="#000">
<text text-anchor="end" transform="translate(235.5,1554.7) scale(0.93,1)">0</text>
<text text-anchor="end" transform="translate(235.5,1458.5) scale(0.93,1)">3</text>
<text text-anchor="end" transform="translate(235.5,1362.3) scale(0.93,1)">6</text>
<text text-anchor="end" transform="translate(235.5,1266.1) scale(0.93,1)">9</text>
<text text-anchor="end" transform="translate(235.5,1169.9) scale(0.93,1)">12</text>
<text text-anchor="middle" transform="translate(248.5,1595.2) scale(0.93,1)">0</text>
<text text-anchor="middle" transform="translate(351.7,1595.2) scale(0.93,1)">10</text>
<text text-anchor="middle" transform="translate(454.9,1595.2) scale(0.93,1)">20</text>
<text text-anchor="middle" transform="translate(558.1,1595.2) scale(0.93,1)">30</text>
<text text-anchor="middle" transform="translate(661.3,1595.2) scale(0.93,1)">40</text>
<text text-anchor="middle" transform="translate(764.5,1595.2) scale(0.93,1)">50</text>
</g>
<text class="bl" font-size="91.7" transform="translate(271.62,1215.9) scale(0.78,1)">(</text>
<text class="bl" font-size="91.7" transform="translate(355.77,1215.9) scale(0.78,1)">)</text>
<text class="bl" font-size="88" transform="translate(299.16,1219.9) scale(1.005,0.980)">g</text>
<path d="M915.3 1390 H941.3 V1456.7 H953.3 L928.3 1482 L903.3 1456.7 H915.3 Z" fill="#ff0000"/>
<path d="M888.6 1529.5 L898.9 1525.9 L919.5 1516.6 L940.1 1505.4 L960.6 1479.8 L981.2 1462.1 L1001.8 1456.7 L1022.4 1459.2 L1043 1459.2 L1063.5 1459.2 L1084.1 1459.2 L1104.7 1459.2 L1125.3 1462.1 L1145.8 1464.7 L1166.4 1464.7 L1187 1467.3 L1207.6 1485.9 L1228.2 1501.9 L1248.8 1507.3 L1269.3 1512.8 L1289.9 1517.9 L1310.5 1520.8 L1331.1 1523.4 L1351.7 1526.9 L1372.2 1531.1 L1392.8 1534 L1413.4 1536.2 L1423.7 1536.9" fill="none" stroke="#ff0000" stroke-width="7" stroke-linejoin="round"/>
<g fill="#ff0000"><circle cx="888.6" cy="1529.5" r="7.2"/><circle cx="898.9" cy="1525.9" r="7.2"/><circle cx="919.5" cy="1516.6" r="7.2"/><circle cx="940.1" cy="1505.4" r="7.2"/><circle cx="960.6" cy="1479.8" r="7.2"/><circle cx="981.2" cy="1462.1" r="7.2"/><circle cx="1001.8" cy="1456.7" r="7.2"/><circle cx="1022.4" cy="1459.2" r="7.2"/><circle cx="1043" cy="1459.2" r="7.2"/><circle cx="1063.5" cy="1459.2" r="7.2"/><circle cx="1084.1" cy="1459.2" r="7.2"/><circle cx="1104.7" cy="1459.2" r="7.2"/><circle cx="1125.3" cy="1462.1" r="7.2"/><circle cx="1145.8" cy="1464.7" r="7.2"/><circle cx="1166.4" cy="1464.7" r="7.2"/><circle cx="1187" cy="1467.3" r="7.2"/><circle cx="1207.6" cy="1485.9" r="7.2"/><circle cx="1228.2" cy="1501.9" r="7.2"/><circle cx="1248.8" cy="1507.3" r="7.2"/><circle cx="1269.3" cy="1512.8" r="7.2"/><circle cx="1289.9" cy="1517.9" r="7.2"/><circle cx="1310.5" cy="1520.8" r="7.2"/><circle cx="1331.1" cy="1523.4" r="7.2"/><circle cx="1351.7" cy="1526.9" r="7.2"/><circle cx="1372.2" cy="1531.1" r="7.2"/><circle cx="1392.8" cy="1534" r="7.2"/><circle cx="1413.4" cy="1536.2" r="7.2"/><circle cx="1423.7" cy="1536.9" r="7.2"/></g>
<path d="M888.6 1529.5 L898.9 1525.9 L919.5 1515 L940.1 1495.8 L960.6 1475.3 L981.2 1464.7 L1001.8 1462.1 L1022.4 1459.2 L1043 1467.3 L1063.5 1467.3 L1084.1 1472.7 L1104.7 1475.3 L1125.3 1475.3 L1145.8 1472.7 L1166.4 1472.7 L1187 1475.3 L1207.6 1467.3 L1228.2 1477.8 L1248.8 1483.3 L1269.3 1488.7 L1289.9 1491.3 L1310.5 1493.9 L1331.1 1496.8 L1351.7 1500 L1372.2 1505.4 L1392.8 1515.4 L1413.4 1526.3 L1423.7 1531.4" fill="none" stroke="#000000" stroke-width="7" stroke-linejoin="round"/>
<g fill="#000000"><circle cx="888.6" cy="1529.5" r="7.2"/><circle cx="898.9" cy="1525.9" r="7.2"/><circle cx="919.5" cy="1515" r="7.2"/><circle cx="940.1" cy="1495.8" r="7.2"/><circle cx="960.6" cy="1475.3" r="7.2"/><circle cx="981.2" cy="1464.7" r="7.2"/><circle cx="1001.8" cy="1462.1" r="7.2"/><circle cx="1022.4" cy="1459.2" r="7.2"/><circle cx="1043" cy="1467.3" r="7.2"/><circle cx="1063.5" cy="1467.3" r="7.2"/><circle cx="1084.1" cy="1472.7" r="7.2"/><circle cx="1104.7" cy="1475.3" r="7.2"/><circle cx="1125.3" cy="1475.3" r="7.2"/><circle cx="1145.8" cy="1472.7" r="7.2"/><circle cx="1166.4" cy="1472.7" r="7.2"/><circle cx="1187" cy="1475.3" r="7.2"/><circle cx="1207.6" cy="1467.3" r="7.2"/><circle cx="1228.2" cy="1477.8" r="7.2"/><circle cx="1248.8" cy="1483.3" r="7.2"/><circle cx="1269.3" cy="1488.7" r="7.2"/><circle cx="1289.9" cy="1491.3" r="7.2"/><circle cx="1310.5" cy="1493.9" r="7.2"/><circle cx="1331.1" cy="1496.8" r="7.2"/><circle cx="1351.7" cy="1500" r="7.2"/><circle cx="1372.2" cy="1505.4" r="7.2"/><circle cx="1392.8" cy="1515.4" r="7.2"/><circle cx="1413.4" cy="1526.3" r="7.2"/><circle cx="1423.7" cy="1531.4" r="7.2"/></g>
<path d="M888.6 1529.5 L898.9 1525.9 L919.5 1516.6 L940.1 1507.3 L960.6 1477.8 L981.2 1456.7 L1001.8 1448.7 L1022.4 1443.2 L1043 1443.2 L1063.5 1443.2 L1084.1 1443.2 L1104.7 1440.6 L1125.3 1443.2 L1145.8 1446.1 L1166.4 1448.7 L1187 1451.2 L1207.6 1472.7 L1228.2 1485.9 L1248.8 1493.9 L1269.3 1501.9 L1289.9 1504.8 L1310.5 1504.8 L1331.1 1507.3 L1351.7 1510.9 L1372.2 1516.6 L1392.8 1523.4 L1413.4 1529.5 L1423.7 1531.4" fill="none" stroke="#00ff00" stroke-width="7" stroke-linejoin="round"/>
<g fill="#00ff00"><circle cx="888.6" cy="1529.5" r="7.2"/><circle cx="898.9" cy="1525.9" r="7.2"/><circle cx="919.5" cy="1516.6" r="7.2"/><circle cx="940.1" cy="1507.3" r="7.2"/><circle cx="960.6" cy="1477.8" r="7.2"/><circle cx="981.2" cy="1456.7" r="7.2"/><circle cx="1001.8" cy="1448.7" r="7.2"/><circle cx="1022.4" cy="1443.2" r="7.2"/><circle cx="1043" cy="1443.2" r="7.2"/><circle cx="1063.5" cy="1443.2" r="7.2"/><circle cx="1084.1" cy="1443.2" r="7.2"/><circle cx="1104.7" cy="1440.6" r="7.2"/><circle cx="1125.3" cy="1443.2" r="7.2"/><circle cx="1145.8" cy="1446.1" r="7.2"/><circle cx="1166.4" cy="1448.7" r="7.2"/><circle cx="1187" cy="1451.2" r="7.2"/><circle cx="1207.6" cy="1472.7" r="7.2"/><circle cx="1228.2" cy="1485.9" r="7.2"/><circle cx="1248.8" cy="1493.9" r="7.2"/><circle cx="1269.3" cy="1501.9" r="7.2"/><circle cx="1289.9" cy="1504.8" r="7.2"/><circle cx="1310.5" cy="1504.8" r="7.2"/><circle cx="1331.1" cy="1507.3" r="7.2"/><circle cx="1351.7" cy="1510.9" r="7.2"/><circle cx="1372.2" cy="1516.6" r="7.2"/><circle cx="1392.8" cy="1523.4" r="7.2"/><circle cx="1413.4" cy="1529.5" r="7.2"/><circle cx="1423.7" cy="1531.4" r="7.2"/></g>
<path d="M888.6 1529.5 L898.9 1525.9 L919.5 1517.9 L940.1 1485.9 L960.6 1453.8 L981.2 1438.1 L1001.8 1427.2 L1022.4 1422 L1043 1419.2 L1063.5 1416.6 L1084.1 1416.6 L1104.7 1411.1 L1125.3 1411.1 L1145.8 1415.3 L1166.4 1422 L1187 1432.6 L1207.6 1438.1 L1228.2 1461.8 L1248.8 1467.3 L1269.3 1470.1 L1289.9 1475.3 L1310.5 1477.8 L1331.1 1483.3 L1351.7 1486.8 L1372.2 1497.4 L1392.8 1509.9 L1413.4 1520.8 L1423.7 1523.4" fill="none" stroke="#0000ff" stroke-width="7" stroke-linejoin="round"/>
<g fill="#0000ff"><circle cx="888.6" cy="1529.5" r="7.2"/><circle cx="898.9" cy="1525.9" r="7.2"/><circle cx="919.5" cy="1517.9" r="7.2"/><circle cx="940.1" cy="1485.9" r="7.2"/><circle cx="960.6" cy="1453.8" r="7.2"/><circle cx="981.2" cy="1438.1" r="7.2"/><circle cx="1001.8" cy="1427.2" r="7.2"/><circle cx="1022.4" cy="1422" r="7.2"/><circle cx="1043" cy="1419.2" r="7.2"/><circle cx="1063.5" cy="1416.6" r="7.2"/><circle cx="1084.1" cy="1416.6" r="7.2"/><circle cx="1104.7" cy="1411.1" r="7.2"/><circle cx="1125.3" cy="1411.1" r="7.2"/><circle cx="1145.8" cy="1415.3" r="7.2"/><circle cx="1166.4" cy="1422" r="7.2"/><circle cx="1187" cy="1432.6" r="7.2"/><circle cx="1207.6" cy="1438.1" r="7.2"/><circle cx="1228.2" cy="1461.8" r="7.2"/><circle cx="1248.8" cy="1467.3" r="7.2"/><circle cx="1269.3" cy="1470.1" r="7.2"/><circle cx="1289.9" cy="1475.3" r="7.2"/><circle cx="1310.5" cy="1477.8" r="7.2"/><circle cx="1331.1" cy="1483.3" r="7.2"/><circle cx="1351.7" cy="1486.8" r="7.2"/><circle cx="1372.2" cy="1497.4" r="7.2"/><circle cx="1392.8" cy="1509.9" r="7.2"/><circle cx="1413.4" cy="1520.8" r="7.2"/><circle cx="1423.7" cy="1523.4" r="7.2"/></g>
<path d="M981.2 1423.6 V1452.5 M977.2 1423.6 H985.2 M977.2 1452.5 H985.2 M1001.8 1412.7 V1441.6 M997.8 1412.7 H1005.8 M997.8 1441.6 H1005.8 M1043 1406.3 V1432 M1039 1406.3 H1047 M1039 1432 H1047 M1063.5 1400.6 V1432.6 M1059.5 1400.6 H1067.5 M1059.5 1432.6 H1067.5 M1084.1 1402.2 V1431 M1080.1 1402.2 H1088.1 M1080.1 1431 H1088.1 M1125.3 1395.1 V1427.2 M1121.3 1395.1 H1129.3 M1121.3 1427.2 H1129.3 M1187 1419.8 V1445.5 M1183 1419.8 H1191 M1183 1445.5 H1191 M1207.6 1423.6 V1452.5 M1203.6 1423.6 H1211.6 M1203.6 1452.5 H1211.6" stroke="#0000ff" stroke-width="2" fill="none"/>
<g stroke="#000" stroke-width="5.2" fill="none">
<path d="M888.6 1154.9 V1540.7 H1455.5"/>
</g>
<path d="M888.6 1540.7 H877.6 M888.6 1444.5 H877.6 M888.6 1348.3 H877.6 M888.6 1252.1 H877.6 M888.6 1155.9 H877.6 M888.6 1492.6 H880.6 M888.6 1396.4 H880.6 M888.6 1300.2 H880.6 M888.6 1204 H880.6 M888.6 1540.7 V1549.7 M991.5 1540.7 V1549.7 M1094.4 1540.7 V1549.7 M1197.3 1540.7 V1549.7 M1300.2 1540.7 V1549.7 M1403.1 1540.7 V1549.7 M940.1 1540.7 V1546.7 M1043 1540.7 V1546.7 M1145.8 1540.7 V1546.7 M1248.8 1540.7 V1546.7 M1351.7 1540.7 V1546.7 M1454.5 1540.7 V1546.7" stroke="#000" stroke-width="3.5" fill="none"/>
<g class="t" font-size="54" fill="#000">
<text text-anchor="end" transform="translate(875.6,1554.7) scale(0.93,1)">0</text>
<text text-anchor="end" transform="translate(875.6,1458.5) scale(0.93,1)">3</text>
<text text-anchor="end" transform="translate(875.6,1362.3) scale(0.93,1)">6</text>
<text text-anchor="end" transform="translate(875.6,1266.1) scale(0.93,1)">9</text>
<text text-anchor="end" transform="translate(875.6,1169.9) scale(0.93,1)">12</text>
<text text-anchor="middle" transform="translate(888.6,1595.2) scale(0.93,1)">0</text>
<text text-anchor="middle" transform="translate(991.5,1595.2) scale(0.93,1)">10</text>
<text text-anchor="middle" transform="translate(1094.4,1595.2) scale(0.93,1)">20</text>
<text text-anchor="middle" transform="translate(1197.3,1595.2) scale(0.93,1)">30</text>
<text text-anchor="middle" transform="translate(1300.2,1595.2) scale(0.93,1)">40</text>
<text text-anchor="middle" transform="translate(1403.1,1595.2) scale(0.93,1)">50</text>
</g>
<text class="bl" font-size="90.3" transform="translate(915.78,1224.3) scale(0.78,1)">(</text>
<text class="bl" font-size="90.3" transform="translate(1003.57,1224.3) scale(0.78,1)">)</text>
<text class="bl" font-size="88" transform="translate(943.88,1227.3) scale(0.994,1.070)">h</text>
<path d="M1556 1390 H1582 V1456.7 H1594 L1569 1482 L1544 1456.7 H1556 Z" fill="#ff0000"/>
<path d="M1533.3 1531.1 L1543.6 1528.8 L1564.1 1515 L1584.6 1499.3 L1605.2 1483.3 L1625.7 1472.7 L1646.3 1448.7 L1666.8 1448.7 L1687.3 1446.1 L1707.9 1440.6 L1728.4 1432.6 L1749 1422 L1769.5 1435.2 L1790 1448.7 L1810.6 1453.8 L1831.1 1459.2 L1851.7 1477.8 L1872.2 1493.9 L1892.8 1496.8 L1913.3 1499.3 L1933.8 1504.8 L1954.4 1509.9 L1974.9 1515.4 L1995.4 1515.4 L2016 1516.3 L2036.5 1517.9 L2057.1 1526.3 L2067.3 1528.8" fill="none" stroke="#ff0000" stroke-width="7" stroke-linejoin="round"/>
<g fill="#ff0000"><circle cx="1533.3" cy="1531.1" r="7.2"/><circle cx="1543.6" cy="1528.8" r="7.2"/><circle cx="1564.1" cy="1515" r="7.2"/><circle cx="1584.6" cy="1499.3" r="7.2"/><circle cx="1605.2" cy="1483.3" r="7.2"/><circle cx="1625.7" cy="1472.7" r="7.2"/><circle cx="1646.3" cy="1448.7" r="7.2"/><circle cx="1666.8" cy="1448.7" r="7.2"/><circle cx="1687.3" cy="1446.1" r="7.2"/><circle cx="1707.9" cy="1440.6" r="7.2"/><circle cx="1728.4" cy="1432.6" r="7.2"/><circle cx="1749" cy="1422" r="7.2"/><circle cx="1769.5" cy="1435.2" r="7.2"/><circle cx="1790" cy="1448.7" r="7.2"/><circle cx="1810.6" cy="1453.8" r="7.2"/><circle cx="1831.1" cy="1459.2" r="7.2"/><circle cx="1851.7" cy="1477.8" r="7.2"/><circle cx="1872.2" cy="1493.9" r="7.2"/><circle cx="1892.8" cy="1496.8" r="7.2"/><circle cx="1913.3" cy="1499.3" r="7.2"/><circle cx="1933.8" cy="1504.8" r="7.2"/><circle cx="1954.4" cy="1509.9" r="7.2"/><circle cx="1974.9" cy="1515.4" r="7.2"/><circle cx="1995.4" cy="1515.4" r="7.2"/><circle cx="2016" cy="1516.3" r="7.2"/><circle cx="2036.5" cy="1517.9" r="7.2"/><circle cx="2057.1" cy="1526.3" r="7.2"/><circle cx="2067.3" cy="1528.8" r="7.2"/></g>
<path d="M1533.3 1531.1 L1543.6 1528.8 L1564.1 1511.8 L1584.6 1491.3 L1605.2 1467.3 L1625.7 1463.7 L1646.3 1462.1 L1666.8 1459.2 L1687.3 1462.1 L1707.9 1464.7 L1728.4 1470.1 L1749 1472.7 L1769.5 1472.7 L1790 1472.7 L1810.6 1470.1 L1831.1 1472.7 L1851.7 1477.8 L1872.2 1483.3 L1892.8 1484.6 L1913.3 1485.9 L1933.8 1488.7 L1954.4 1488.7 L1974.9 1493.9 L1995.4 1499 L2016 1505.4 L2036.5 1512.8 L2057.1 1523.1 L2067.3 1525.9" fill="none" stroke="#000000" stroke-width="7" stroke-linejoin="round"/>
<g fill="#000000"><circle cx="1533.3" cy="1531.1" r="7.2"/><circle cx="1543.6" cy="1528.8" r="7.2"/><circle cx="1564.1" cy="1511.8" r="7.2"/><circle cx="1584.6" cy="1491.3" r="7.2"/><circle cx="1605.2" cy="1467.3" r="7.2"/><circle cx="1625.7" cy="1463.7" r="7.2"/><circle cx="1646.3" cy="1462.1" r="7.2"/><circle cx="1666.8" cy="1459.2" r="7.2"/><circle cx="1687.3" cy="1462.1" r="7.2"/><circle cx="1707.9" cy="1464.7" r="7.2"/><circle cx="1728.4" cy="1470.1" r="7.2"/><circle cx="1749" cy="1472.7" r="7.2"/><circle cx="1769.5" cy="1472.7" r="7.2"/><circle cx="1790" cy="1472.7" r="7.2"/><circle cx="1810.6" cy="1470.1" r="7.2"/><circle cx="1831.1" cy="1472.7" r="7.2"/><circle cx="1851.7" cy="1477.8" r="7.2"/><circle cx="1872.2" cy="1483.3" r="7.2"/><circle cx="1892.8" cy="1484.6" r="7.2"/><circle cx="1913.3" cy="1485.9" r="7.2"/><circle cx="1933.8" cy="1488.7" r="7.2"/><circle cx="1954.4" cy="1488.7" r="7.2"/><circle cx="1974.9" cy="1493.9" r="7.2"/><circle cx="1995.4" cy="1499" r="7.2"/><circle cx="2016" cy="1505.4" r="7.2"/><circle cx="2036.5" cy="1512.8" r="7.2"/><circle cx="2057.1" cy="1523.1" r="7.2"/><circle cx="2067.3" cy="1525.9" r="7.2"/></g>
<path d="M1533.3 1531.1 L1543.6 1526.3 L1564.1 1509.9 L1584.6 1491.3 L1605.2 1477.8 L1625.7 1453.8 L1646.3 1435.2 L1666.8 1432.6 L1687.3 1430.1 L1707.9 1427.2 L1728.4 1419.2 L1749 1403.1 L1769.5 1430.1 L1790 1435.2 L1810.6 1438.1 L1831.1 1435.2 L1851.7 1462.1 L1872.2 1475.3 L1892.8 1483.3 L1913.3 1501.9 L1933.8 1504.8 L1954.4 1499.3 L1974.9 1509.9 L1995.4 1516.6 L2016 1521.5 L2036.5 1525.9 L2057.1 1528.5 L2067.3 1528.8" fill="none" stroke="#00ff00" stroke-width="7" stroke-linejoin="round"/>
<g fill="#00ff00"><circle cx="1533.3" cy="1531.1" r="7.2"/><circle cx="1543.6" cy="1526.3" r="7.2"/><circle cx="1564.1" cy="1509.9" r="7.2"/><circle cx="1584.6" cy="1491.3" r="7.2"/><circle cx="1605.2" cy="1477.8" r="7.2"/><circle cx="1625.7" cy="1453.8" r="7.2"/><circle cx="1646.3" cy="1435.2" r="7.2"/><circle cx="1666.8" cy="1432.6" r="7.2"/><circle cx="1687.3" cy="1430.1" r="7.2"/><circle cx="1707.9" cy="1427.2" r="7.2"/><circle cx="1728.4" cy="1419.2" r="7.2"/><circle cx="1749" cy="1403.1" r="7.2"/><circle cx="1769.5" cy="1430.1" r="7.2"/><circle cx="1790" cy="1435.2" r="7.2"/><circle cx="1810.6" cy="1438.1" r="7.2"/><circle cx="1831.1" cy="1435.2" r="7.2"/><circle cx="1851.7" cy="1462.1" r="7.2"/><circle cx="1872.2" cy="1475.3" r="7.2"/><circle cx="1892.8" cy="1483.3" r="7.2"/><circle cx="1913.3" cy="1501.9" r="7.2"/><circle cx="1933.8" cy="1504.8" r="7.2"/><circle cx="1954.4" cy="1499.3" r="7.2"/><circle cx="1974.9" cy="1509.9" r="7.2"/><circle cx="1995.4" cy="1516.6" r="7.2"/><circle cx="2016" cy="1521.5" r="7.2"/><circle cx="2036.5" cy="1525.9" r="7.2"/><circle cx="2057.1" cy="1528.5" r="7.2"/><circle cx="2067.3" cy="1528.8" r="7.2"/></g>
<path d="M1533.3 1531.1 L1543.6 1528.8 L1564.1 1523.4 L1584.6 1517.9 L1605.2 1512.8 L1625.7 1517.9 L1646.3 1507.3 L1666.8 1480.7 L1687.3 1440.6 L1707.9 1411.1 L1728.4 1357.9 L1749 1273.2 L1769.5 1183.8 L1790 1166.4 L1810.6 1210.4 L1831.1 1240.2 L1851.7 1254.6 L1872.2 1267.1 L1892.8 1281.3 L1913.3 1312.7 L1933.8 1328.4 L1954.4 1336.1 L1974.9 1348.6 L1995.4 1365.9 L2008.8 1372 L2036.5 1429.4 L2067.3 1477.5" fill="none" stroke="#0000ff" stroke-width="7" stroke-linejoin="round"/>
<g fill="#0000ff"><circle cx="1533.3" cy="1531.1" r="7.2"/><circle cx="1543.6" cy="1528.8" r="7.2"/><circle cx="1564.1" cy="1523.4" r="7.2"/><circle cx="1584.6" cy="1517.9" r="7.2"/><circle cx="1605.2" cy="1512.8" r="7.2"/><circle cx="1625.7" cy="1517.9" r="7.2"/><circle cx="1646.3" cy="1507.3" r="7.2"/><circle cx="1666.8" cy="1480.7" r="7.2"/><circle cx="1687.3" cy="1440.6" r="7.2"/><circle cx="1707.9" cy="1411.1" r="7.2"/><circle cx="1728.4" cy="1357.9" r="7.2"/><circle cx="1749" cy="1273.2" r="7.2"/><circle cx="1769.5" cy="1183.8" r="7.2"/><circle cx="1790" cy="1166.4" r="7.2"/><circle cx="1810.6" cy="1210.4" r="7.2"/><circle cx="1831.1" cy="1240.2" r="7.2"/><circle cx="1851.7" cy="1254.6" r="7.2"/><circle cx="1872.2" cy="1267.1" r="7.2"/><circle cx="1892.8" cy="1281.3" r="7.2"/><circle cx="1913.3" cy="1312.7" r="7.2"/><circle cx="1933.8" cy="1328.4" r="7.2"/><circle cx="1954.4" cy="1336.1" r="7.2"/><circle cx="1974.9" cy="1348.6" r="7.2"/><circle cx="1995.4" cy="1365.9" r="7.2"/><circle cx="2008.8" cy="1372" r="7.2"/><circle cx="2036.5" cy="1429.4" r="7.2"/><circle cx="2067.3" cy="1477.5" r="7.2"/></g>
<path d="M1810.6 1200.8 V1220 M1806.6 1200.8 H1814.6 M1806.6 1220 H1814.6 M1872.2 1255.9 V1278.4 M1868.2 1255.9 H1876.2 M1868.2 1278.4 H1876.2 M1913.3 1303.1 V1322.3 M1909.3 1303.1 H1917.3 M1909.3 1322.3 H1917.3 M1974.9 1337.4 V1359.8 M1970.9 1337.4 H1978.9 M1970.9 1359.8 H1978.9 M2008.8 1357.6 V1386.4 M2004.8 1357.6 H2012.8 M2004.8 1386.4 H2012.8 M2036.5 1419.8 V1439 M2032.5 1419.8 H2040.5 M2032.5 1439 H2040.5" stroke="#0000ff" stroke-width="2" fill="none"/>
<g stroke="#000" stroke-width="5.2" fill="none">
<path d="M1533.3 1154.9 V1540.7 H2099.2"/>
</g>
<path d="M1533.3 1540.7 H1522.3 M1533.3 1444.5 H1522.3 M1533.3 1348.3 H1522.3 M1533.3 1252.1 H1522.3 M1533.3 1155.9 H1522.3 M1533.3 1492.6 H1525.3 M1533.3 1396.4 H1525.3 M1533.3 1300.2 H1525.3 M1533.3 1204 H1525.3 M1533.3 1540.7 V1549.7 M1636 1540.7 V1549.7 M1738.7 1540.7 V1549.7 M1841.4 1540.7 V1549.7 M1944.1 1540.7 V1549.7 M2046.8 1540.7 V1549.7 M1584.6 1540.7 V1546.7 M1687.3 1540.7 V1546.7 M1790 1540.7 V1546.7 M1892.8 1540.7 V1546.7 M1995.4 1540.7 V1546.7 M2098.2 1540.7 V1546.7" stroke="#000" stroke-width="3.5" fill="none"/>
<g class="t" font-size="54" fill="#000">
<text text-anchor="end" transform="translate(1520.3,1554.7) scale(0.93,1)">0</text>
<text text-anchor="end" transform="translate(1520.3,1458.5) scale(0.93,1)">3</text>
<text text-anchor="end" transform="translate(1520.3,1362.3) scale(0.93,1)">6</text>
<text text-anchor="end" transform="translate(1520.3,1266.1) scale(0.93,1)">9</text>
<text text-anchor="end" transform="translate(1520.3,1169.9) scale(0.93,1)">12</text>
<text text-anchor="middle" transform="translate(1533.3,1595.2) scale(0.93,1)">0</text>
<text text-anchor="middle" transform="translate(1636,1595.2) scale(0.93,1)">10</text>
<text text-anchor="middle" transform="translate(1738.7,1595.2) scale(0.93,1)">20</text>
<text text-anchor="middle" transform="translate(1841.4,1595.2) scale(0.93,1)">30</text>
<text text-anchor="middle" transform="translate(1944.1,1595.2) scale(0.93,1)">40</text>
<text text-anchor="middle" transform="translate(2046.8,1595.2) scale(0.93,1)">50</text>
</g>
<text class="bl" font-size="91.1" transform="translate(1566.45,1219.9) scale(0.78,1)">(</text>
<text class="bl" font-size="91.1" transform="translate(1628.11,1219.9) scale(0.78,1)">)</text>
<text class="bl" font-size="88" transform="translate(1600.00,1223.5) scale(0.974,1.020)">i</text>
</svg></body></html>
